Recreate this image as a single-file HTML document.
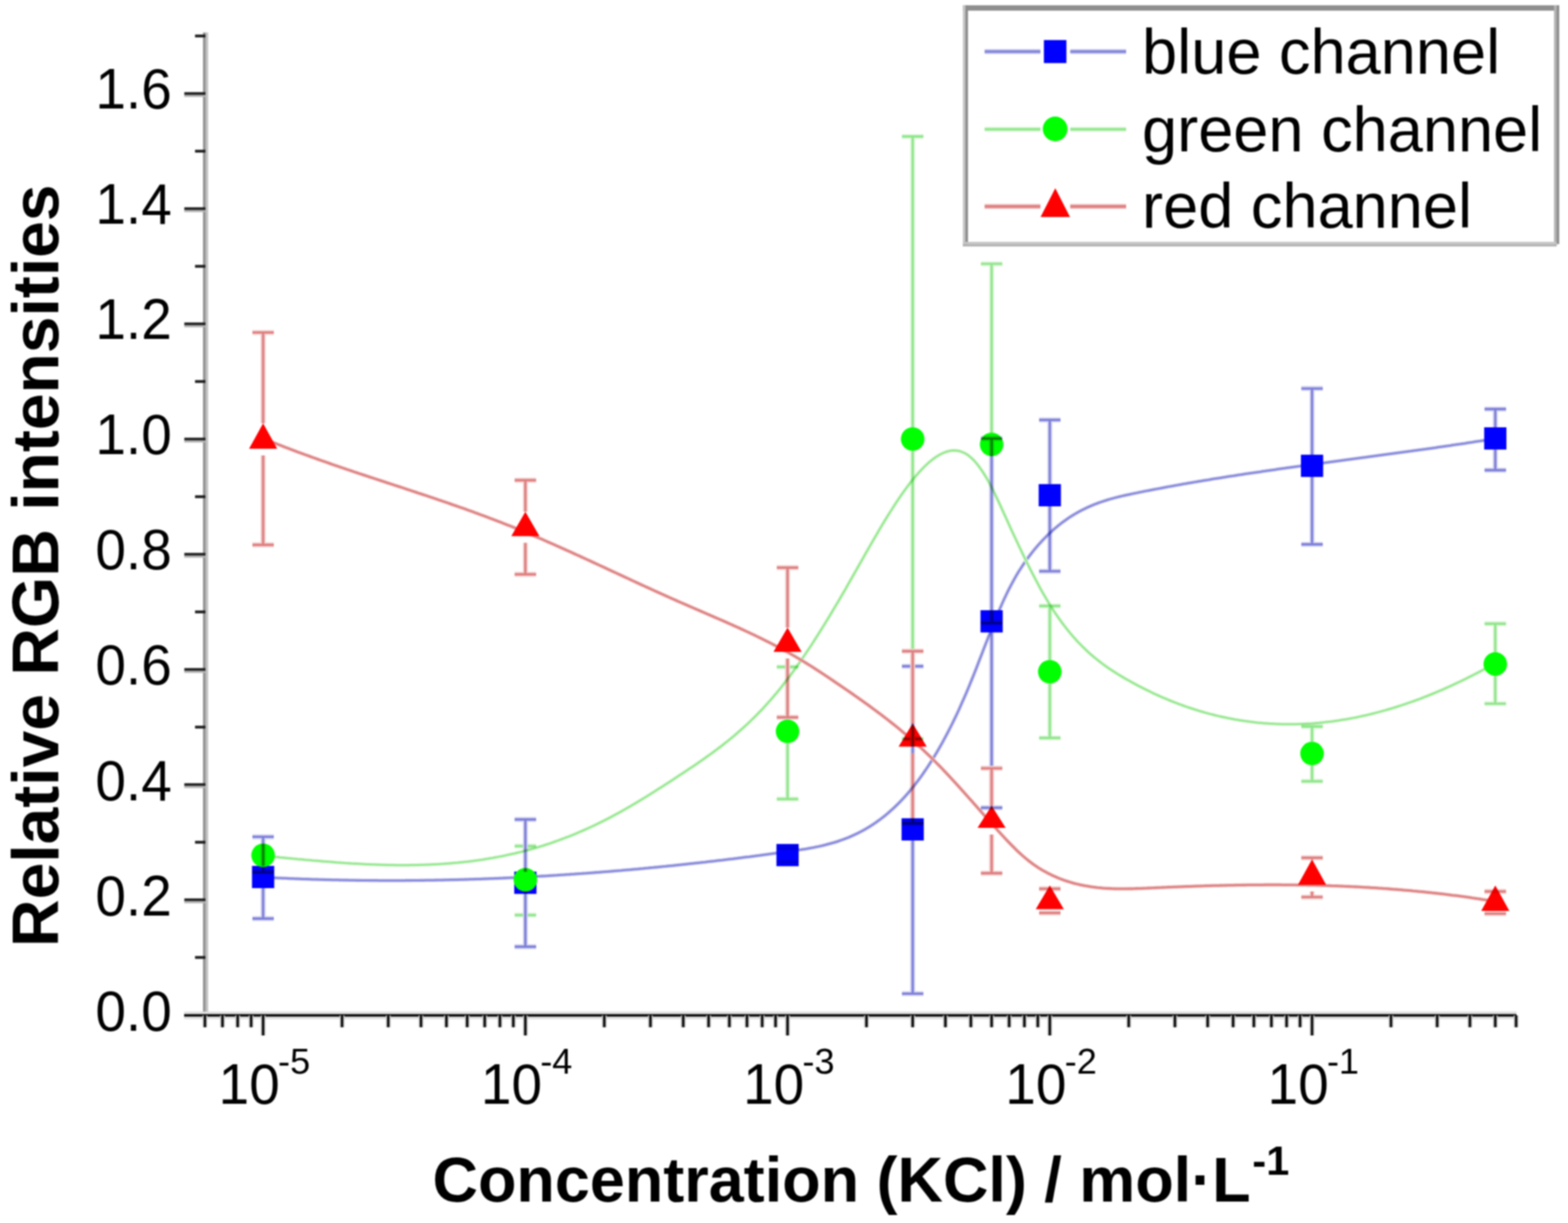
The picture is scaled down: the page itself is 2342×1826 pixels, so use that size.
<!DOCTYPE html>
<html><head><meta charset="utf-8"><style>html,body{margin:0;padding:0;background:#fff;overflow:hidden;}svg{display:block;filter:blur(0.8px);}</style></head>
<body>
<svg width="2342" height="1826" viewBox="0 0 2342 1826">
<rect width="100%" height="100%" fill="#fff"/>
<g fill="none" stroke-linecap="round" stroke-linejoin="round" style="mix-blend-mode:multiply">
<path d="M393.0,1309.8 L396.7,1310.0 L400.4,1310.1 L404.1,1310.3 L407.7,1310.5 L411.4,1310.7 L415.1,1310.9 L418.8,1311.0 L422.5,1311.2 L426.2,1311.3 L429.9,1311.5 L433.6,1311.7 L437.2,1311.8 L440.9,1312.0 L444.6,1312.1 L448.3,1312.2 L452.0,1312.4 L455.7,1312.5 L459.4,1312.6 L463.0,1312.7 L466.7,1312.9 L470.4,1313.0 L474.1,1313.1 L477.8,1313.2 L481.5,1313.3 L485.2,1313.4 L488.8,1313.5 L492.5,1313.6 L496.2,1313.7 L499.9,1313.8 L503.6,1313.8 L507.3,1313.9 L511.0,1314.0 L514.7,1314.1 L518.3,1314.1 L522.0,1314.2 L525.7,1314.3 L529.4,1314.3 L533.1,1314.4 L536.8,1314.4 L540.5,1314.5 L544.1,1314.5 L547.8,1314.5 L551.5,1314.6 L555.2,1314.6 L558.9,1314.6 L562.6,1314.6 L566.3,1314.7 L569.9,1314.7 L573.6,1314.7 L577.3,1314.7 L581.0,1314.7 L584.7,1314.7 L588.4,1314.7 L592.1,1314.7 L595.8,1314.7 L599.4,1314.7 L603.1,1314.7 L606.8,1314.6 L610.5,1314.6 L614.2,1314.6 L617.9,1314.5 L621.6,1314.5 L625.2,1314.5 L628.9,1314.4 L632.6,1314.4 L636.3,1314.3 L640.0,1314.3 L643.7,1314.2 L647.4,1314.2 L651.0,1314.1 L654.7,1314.0 L658.4,1314.0 L662.1,1313.9 L665.8,1313.8 L669.5,1313.7 L673.2,1313.6 L676.9,1313.6 L680.5,1313.5 L684.2,1313.4 L687.9,1313.3 L691.6,1313.2 L695.3,1313.1 L699.0,1313.0 L702.7,1312.8 L706.3,1312.7 L710.0,1312.6 L713.7,1312.5 L717.4,1312.4 L721.1,1312.2 L724.8,1312.1 L728.5,1312.0 L732.1,1311.8 L735.8,1311.7 L739.5,1311.5 L743.2,1311.4 L746.9,1311.2 L750.6,1311.1 L754.3,1310.9 L758.0,1310.7 L761.6,1310.6 L765.3,1310.4 L769.0,1310.2 L772.7,1310.1 L776.4,1309.9 L780.1,1309.7 L783.8,1309.5 L787.4,1309.3 L791.1,1309.1 L794.8,1308.9 L798.5,1308.7 L802.2,1308.5 L805.9,1308.3 L809.6,1308.1 L813.2,1307.9 L816.9,1307.7 L820.6,1307.4 L824.3,1307.2 L828.0,1307.0 L831.7,1306.8 L835.4,1306.5 L839.1,1306.3 L842.7,1306.1 L846.4,1305.8 L850.1,1305.6 L853.8,1305.3 L857.5,1305.1 L861.2,1304.8 L864.9,1304.5 L868.5,1304.3 L872.2,1304.0 L875.9,1303.8 L879.6,1303.5 L883.3,1303.2 L887.0,1302.9 L890.7,1302.6 L894.3,1302.4 L898.0,1302.1 L901.7,1301.8 L905.4,1301.5 L909.1,1301.2 L912.8,1300.9 L916.5,1300.6 L920.2,1300.3 L923.8,1300.0 L927.5,1299.7 L931.2,1299.3 L934.9,1299.0 L938.6,1298.7 L942.3,1298.4 L946.0,1298.0 L949.6,1297.7 L953.3,1297.4 L957.0,1297.0 L960.7,1296.7 L964.4,1296.3 L968.1,1296.0 L971.8,1295.6 L975.4,1295.3 L979.1,1294.9 L982.8,1294.6 L986.5,1294.2 L990.2,1293.8 L993.9,1293.5 L997.6,1293.1 L1001.3,1292.7 L1004.9,1292.4 L1008.6,1292.0 L1012.3,1291.6 L1016.0,1291.2 L1019.7,1290.8 L1023.4,1290.4 L1027.1,1290.0 L1030.7,1289.6 L1034.4,1289.2 L1038.1,1288.8 L1041.8,1288.4 L1045.5,1288.0 L1049.2,1287.6 L1052.9,1287.2 L1056.5,1286.7 L1060.2,1286.3 L1063.9,1285.9 L1067.6,1285.5 L1071.3,1285.0 L1075.0,1284.6 L1078.7,1284.2 L1082.4,1283.7 L1086.0,1283.3 L1089.7,1282.8 L1093.4,1282.4 L1097.1,1281.9 L1100.8,1281.5 L1104.5,1281.0 L1108.2,1280.6 L1111.8,1280.1 L1115.5,1279.6 L1119.2,1279.2 L1122.9,1278.7 L1126.6,1278.2 L1130.3,1277.7 L1134.0,1277.3 L1137.6,1276.8 L1141.3,1276.3 L1145.0,1275.8 L1148.7,1275.3 L1152.4,1274.8 L1156.1,1274.3 L1159.8,1273.8 L1163.5,1273.3 L1167.1,1272.8 L1170.8,1272.3 L1174.5,1271.8 L1178.2,1271.3 L1181.9,1270.7 L1185.6,1270.2 L1189.3,1269.7 L1192.9,1269.1 L1196.6,1268.6 L1200.3,1268.0 L1204.0,1267.4 L1207.7,1266.7 L1211.4,1266.1 L1215.1,1265.4 L1218.7,1264.6 L1222.4,1263.9 L1226.1,1263.1 L1229.8,1262.2 L1233.5,1261.3 L1237.2,1260.3 L1240.9,1259.3 L1244.6,1258.3 L1248.2,1257.2 L1251.9,1256.0 L1255.6,1254.7 L1259.3,1253.4 L1263.0,1252.0 L1266.7,1250.6 L1270.4,1249.0 L1274.0,1247.4 L1277.7,1245.7 L1281.4,1243.9 L1285.1,1242.0 L1288.8,1240.1 L1292.5,1238.0 L1296.2,1235.8 L1299.8,1233.6 L1303.5,1231.2 L1307.2,1228.7 L1310.9,1226.1 L1314.6,1223.4 L1318.3,1220.6 L1322.0,1217.7 L1325.7,1214.6 L1329.3,1211.4 L1333.0,1208.1 L1336.7,1204.7 L1340.4,1201.1 L1344.1,1197.4 L1347.8,1193.5 L1351.5,1189.5 L1355.1,1185.4 L1358.8,1181.1 L1362.5,1176.6 L1366.2,1172.0 L1369.9,1167.2 L1373.6,1162.3 L1377.3,1157.2 L1380.9,1151.9 L1384.6,1146.5 L1388.3,1140.9 L1392.0,1135.1 L1395.7,1129.1 L1399.4,1123.0 L1403.1,1116.6 L1406.8,1110.1 L1410.4,1103.4 L1414.1,1096.5 L1417.8,1089.4 L1421.5,1082.1 L1425.2,1074.5 L1428.9,1066.8 L1432.6,1058.9 L1436.2,1050.7 L1439.9,1042.4 L1443.6,1033.8 L1447.3,1025.0 L1451.0,1015.9 L1454.7,1006.7 L1458.4,997.4 L1462.0,987.9 L1465.7,978.4 L1469.4,968.8 L1473.1,959.3 L1476.8,949.8 L1480.5,940.5 L1484.2,931.2 L1487.9,922.2 L1491.5,913.3 L1495.2,904.8 L1498.9,896.5 L1502.6,888.6 L1506.3,881.0 L1510.0,873.9 L1513.7,867.0 L1517.3,860.5 L1521.0,854.3 L1524.7,848.5 L1528.4,842.9 L1532.1,837.5 L1535.8,832.4 L1539.5,827.5 L1543.1,822.9 L1546.8,818.4 L1550.5,814.1 L1554.2,810.0 L1557.9,806.0 L1561.6,802.2 L1565.3,798.5 L1569.0,795.0 L1572.6,791.6 L1576.3,788.4 L1580.0,785.3 L1583.7,782.4 L1587.4,779.5 L1591.1,776.9 L1594.8,774.3 L1598.4,771.8 L1602.1,769.5 L1605.8,767.3 L1609.5,765.1 L1613.2,763.1 L1616.9,761.2 L1620.6,759.4 L1624.2,757.6 L1627.9,756.0 L1631.6,754.4 L1635.3,752.9 L1639.0,751.5 L1642.7,750.2 L1646.4,748.9 L1650.1,747.7 L1653.7,746.5 L1657.4,745.4 L1661.1,744.4 L1664.8,743.4 L1668.5,742.4 L1672.2,741.5 L1675.9,740.6 L1679.5,739.8 L1683.2,739.0 L1686.9,738.2 L1690.6,737.4 L1694.3,736.6 L1698.0,735.9 L1701.7,735.1 L1705.3,734.4 L1709.0,733.6 L1712.7,732.9 L1716.4,732.2 L1720.1,731.5 L1723.8,730.8 L1727.5,730.1 L1731.2,729.4 L1734.8,728.7 L1738.5,728.0 L1742.2,727.3 L1745.9,726.6 L1749.6,725.9 L1753.3,725.3 L1757.0,724.6 L1760.6,723.9 L1764.3,723.3 L1768.0,722.6 L1771.7,722.0 L1775.4,721.3 L1779.1,720.7 L1782.8,720.1 L1786.4,719.4 L1790.1,718.8 L1793.8,718.2 L1797.5,717.6 L1801.2,717.0 L1804.9,716.4 L1808.6,715.7 L1812.3,715.1 L1815.9,714.6 L1819.6,714.0 L1823.3,713.4 L1827.0,712.8 L1830.7,712.2 L1834.4,711.6 L1838.1,711.0 L1841.7,710.5 L1845.4,709.9 L1849.1,709.3 L1852.8,708.8 L1856.5,708.2 L1860.2,707.6 L1863.9,707.1 L1867.5,706.5 L1871.2,706.0 L1874.9,705.4 L1878.6,704.9 L1882.3,704.4 L1886.0,703.8 L1889.7,703.3 L1893.4,702.7 L1897.0,702.2 L1900.7,701.7 L1904.4,701.2 L1908.1,700.6 L1911.8,700.1 L1915.5,699.6 L1919.2,699.1 L1922.8,698.5 L1926.5,698.0 L1930.2,697.5 L1933.9,697.0 L1937.6,696.5 L1941.3,696.0 L1945.0,695.5 L1948.6,695.0 L1952.3,694.5 L1956.0,694.0 L1959.7,693.5 L1963.4,693.0 L1967.1,692.5 L1970.8,692.0 L1974.5,691.5 L1978.1,691.0 L1981.8,690.5 L1985.5,690.0 L1989.2,689.5 L1992.9,689.0 L1996.6,688.5 L2000.3,688.0 L2003.9,687.5 L2007.6,687.0 L2011.3,686.5 L2015.0,686.0 L2018.7,685.5 L2022.4,685.0 L2026.1,684.5 L2029.7,684.0 L2033.4,683.5 L2037.1,683.0 L2040.8,682.6 L2044.5,682.1 L2048.2,681.6 L2051.9,681.1 L2055.6,680.6 L2059.2,680.1 L2062.9,679.6 L2066.6,679.1 L2070.3,678.6 L2074.0,678.1 L2077.7,677.6 L2081.4,677.1 L2085.0,676.6 L2088.7,676.1 L2092.4,675.6 L2096.1,675.1 L2099.8,674.6 L2103.5,674.1 L2107.2,673.6 L2110.8,673.0 L2114.5,672.5 L2118.2,672.0 L2121.9,671.5 L2125.6,671.0 L2129.3,670.5 L2133.0,669.9 L2136.7,669.4 L2140.3,668.9 L2144.0,668.4 L2147.7,667.8 L2151.4,667.3 L2155.1,666.8 L2158.8,666.2 L2162.5,665.7 L2166.1,665.2 L2169.8,664.6 L2173.5,664.1 L2177.2,663.5 L2180.9,663.0 L2184.6,662.4 L2188.3,661.9 L2191.9,661.3 L2195.6,660.7 L2199.3,660.2 L2203.0,659.6 L2206.7,659.0 L2210.4,658.5 L2214.1,657.9 L2217.8,657.3 L2221.4,656.7 L2225.1,656.1 L2228.8,655.5 L2232.5,654.9" stroke="#cccdf0" stroke-width="5.6"/>
<path d="M393.0,1309.8 L396.7,1310.0 L400.4,1310.1 L404.1,1310.3 L407.7,1310.5 L411.4,1310.7 L415.1,1310.9 L418.8,1311.0 L422.5,1311.2 L426.2,1311.3 L429.9,1311.5 L433.6,1311.7 L437.2,1311.8 L440.9,1312.0 L444.6,1312.1 L448.3,1312.2 L452.0,1312.4 L455.7,1312.5 L459.4,1312.6 L463.0,1312.7 L466.7,1312.9 L470.4,1313.0 L474.1,1313.1 L477.8,1313.2 L481.5,1313.3 L485.2,1313.4 L488.8,1313.5 L492.5,1313.6 L496.2,1313.7 L499.9,1313.8 L503.6,1313.8 L507.3,1313.9 L511.0,1314.0 L514.7,1314.1 L518.3,1314.1 L522.0,1314.2 L525.7,1314.3 L529.4,1314.3 L533.1,1314.4 L536.8,1314.4 L540.5,1314.5 L544.1,1314.5 L547.8,1314.5 L551.5,1314.6 L555.2,1314.6 L558.9,1314.6 L562.6,1314.6 L566.3,1314.7 L569.9,1314.7 L573.6,1314.7 L577.3,1314.7 L581.0,1314.7 L584.7,1314.7 L588.4,1314.7 L592.1,1314.7 L595.8,1314.7 L599.4,1314.7 L603.1,1314.7 L606.8,1314.6 L610.5,1314.6 L614.2,1314.6 L617.9,1314.5 L621.6,1314.5 L625.2,1314.5 L628.9,1314.4 L632.6,1314.4 L636.3,1314.3 L640.0,1314.3 L643.7,1314.2 L647.4,1314.2 L651.0,1314.1 L654.7,1314.0 L658.4,1314.0 L662.1,1313.9 L665.8,1313.8 L669.5,1313.7 L673.2,1313.6 L676.9,1313.6 L680.5,1313.5 L684.2,1313.4 L687.9,1313.3 L691.6,1313.2 L695.3,1313.1 L699.0,1313.0 L702.7,1312.8 L706.3,1312.7 L710.0,1312.6 L713.7,1312.5 L717.4,1312.4 L721.1,1312.2 L724.8,1312.1 L728.5,1312.0 L732.1,1311.8 L735.8,1311.7 L739.5,1311.5 L743.2,1311.4 L746.9,1311.2 L750.6,1311.1 L754.3,1310.9 L758.0,1310.7 L761.6,1310.6 L765.3,1310.4 L769.0,1310.2 L772.7,1310.1 L776.4,1309.9 L780.1,1309.7 L783.8,1309.5 L787.4,1309.3 L791.1,1309.1 L794.8,1308.9 L798.5,1308.7 L802.2,1308.5 L805.9,1308.3 L809.6,1308.1 L813.2,1307.9 L816.9,1307.7 L820.6,1307.4 L824.3,1307.2 L828.0,1307.0 L831.7,1306.8 L835.4,1306.5 L839.1,1306.3 L842.7,1306.1 L846.4,1305.8 L850.1,1305.6 L853.8,1305.3 L857.5,1305.1 L861.2,1304.8 L864.9,1304.5 L868.5,1304.3 L872.2,1304.0 L875.9,1303.8 L879.6,1303.5 L883.3,1303.2 L887.0,1302.9 L890.7,1302.6 L894.3,1302.4 L898.0,1302.1 L901.7,1301.8 L905.4,1301.5 L909.1,1301.2 L912.8,1300.9 L916.5,1300.6 L920.2,1300.3 L923.8,1300.0 L927.5,1299.7 L931.2,1299.3 L934.9,1299.0 L938.6,1298.7 L942.3,1298.4 L946.0,1298.0 L949.6,1297.7 L953.3,1297.4 L957.0,1297.0 L960.7,1296.7 L964.4,1296.3 L968.1,1296.0 L971.8,1295.6 L975.4,1295.3 L979.1,1294.9 L982.8,1294.6 L986.5,1294.2 L990.2,1293.8 L993.9,1293.5 L997.6,1293.1 L1001.3,1292.7 L1004.9,1292.4 L1008.6,1292.0 L1012.3,1291.6 L1016.0,1291.2 L1019.7,1290.8 L1023.4,1290.4 L1027.1,1290.0 L1030.7,1289.6 L1034.4,1289.2 L1038.1,1288.8 L1041.8,1288.4 L1045.5,1288.0 L1049.2,1287.6 L1052.9,1287.2 L1056.5,1286.7 L1060.2,1286.3 L1063.9,1285.9 L1067.6,1285.5 L1071.3,1285.0 L1075.0,1284.6 L1078.7,1284.2 L1082.4,1283.7 L1086.0,1283.3 L1089.7,1282.8 L1093.4,1282.4 L1097.1,1281.9 L1100.8,1281.5 L1104.5,1281.0 L1108.2,1280.6 L1111.8,1280.1 L1115.5,1279.6 L1119.2,1279.2 L1122.9,1278.7 L1126.6,1278.2 L1130.3,1277.7 L1134.0,1277.3 L1137.6,1276.8 L1141.3,1276.3 L1145.0,1275.8 L1148.7,1275.3 L1152.4,1274.8 L1156.1,1274.3 L1159.8,1273.8 L1163.5,1273.3 L1167.1,1272.8 L1170.8,1272.3 L1174.5,1271.8 L1178.2,1271.3 L1181.9,1270.7 L1185.6,1270.2 L1189.3,1269.7 L1192.9,1269.1 L1196.6,1268.6 L1200.3,1268.0 L1204.0,1267.4 L1207.7,1266.7 L1211.4,1266.1 L1215.1,1265.4 L1218.7,1264.6 L1222.4,1263.9 L1226.1,1263.1 L1229.8,1262.2 L1233.5,1261.3 L1237.2,1260.3 L1240.9,1259.3 L1244.6,1258.3 L1248.2,1257.2 L1251.9,1256.0 L1255.6,1254.7 L1259.3,1253.4 L1263.0,1252.0 L1266.7,1250.6 L1270.4,1249.0 L1274.0,1247.4 L1277.7,1245.7 L1281.4,1243.9 L1285.1,1242.0 L1288.8,1240.1 L1292.5,1238.0 L1296.2,1235.8 L1299.8,1233.6 L1303.5,1231.2 L1307.2,1228.7 L1310.9,1226.1 L1314.6,1223.4 L1318.3,1220.6 L1322.0,1217.7 L1325.7,1214.6 L1329.3,1211.4 L1333.0,1208.1 L1336.7,1204.7 L1340.4,1201.1 L1344.1,1197.4 L1347.8,1193.5 L1351.5,1189.5 L1355.1,1185.4 L1358.8,1181.1 L1362.5,1176.6 L1366.2,1172.0 L1369.9,1167.2 L1373.6,1162.3 L1377.3,1157.2 L1380.9,1151.9 L1384.6,1146.5 L1388.3,1140.9 L1392.0,1135.1 L1395.7,1129.1 L1399.4,1123.0 L1403.1,1116.6 L1406.8,1110.1 L1410.4,1103.4 L1414.1,1096.5 L1417.8,1089.4 L1421.5,1082.1 L1425.2,1074.5 L1428.9,1066.8 L1432.6,1058.9 L1436.2,1050.7 L1439.9,1042.4 L1443.6,1033.8 L1447.3,1025.0 L1451.0,1015.9 L1454.7,1006.7 L1458.4,997.4 L1462.0,987.9 L1465.7,978.4 L1469.4,968.8 L1473.1,959.3 L1476.8,949.8 L1480.5,940.5 L1484.2,931.2 L1487.9,922.2 L1491.5,913.3 L1495.2,904.8 L1498.9,896.5 L1502.6,888.6 L1506.3,881.0 L1510.0,873.9 L1513.7,867.0 L1517.3,860.5 L1521.0,854.3 L1524.7,848.5 L1528.4,842.9 L1532.1,837.5 L1535.8,832.4 L1539.5,827.5 L1543.1,822.9 L1546.8,818.4 L1550.5,814.1 L1554.2,810.0 L1557.9,806.0 L1561.6,802.2 L1565.3,798.5 L1569.0,795.0 L1572.6,791.6 L1576.3,788.4 L1580.0,785.3 L1583.7,782.4 L1587.4,779.5 L1591.1,776.9 L1594.8,774.3 L1598.4,771.8 L1602.1,769.5 L1605.8,767.3 L1609.5,765.1 L1613.2,763.1 L1616.9,761.2 L1620.6,759.4 L1624.2,757.6 L1627.9,756.0 L1631.6,754.4 L1635.3,752.9 L1639.0,751.5 L1642.7,750.2 L1646.4,748.9 L1650.1,747.7 L1653.7,746.5 L1657.4,745.4 L1661.1,744.4 L1664.8,743.4 L1668.5,742.4 L1672.2,741.5 L1675.9,740.6 L1679.5,739.8 L1683.2,739.0 L1686.9,738.2 L1690.6,737.4 L1694.3,736.6 L1698.0,735.9 L1701.7,735.1 L1705.3,734.4 L1709.0,733.6 L1712.7,732.9 L1716.4,732.2 L1720.1,731.5 L1723.8,730.8 L1727.5,730.1 L1731.2,729.4 L1734.8,728.7 L1738.5,728.0 L1742.2,727.3 L1745.9,726.6 L1749.6,725.9 L1753.3,725.3 L1757.0,724.6 L1760.6,723.9 L1764.3,723.3 L1768.0,722.6 L1771.7,722.0 L1775.4,721.3 L1779.1,720.7 L1782.8,720.1 L1786.4,719.4 L1790.1,718.8 L1793.8,718.2 L1797.5,717.6 L1801.2,717.0 L1804.9,716.4 L1808.6,715.7 L1812.3,715.1 L1815.9,714.6 L1819.6,714.0 L1823.3,713.4 L1827.0,712.8 L1830.7,712.2 L1834.4,711.6 L1838.1,711.0 L1841.7,710.5 L1845.4,709.9 L1849.1,709.3 L1852.8,708.8 L1856.5,708.2 L1860.2,707.6 L1863.9,707.1 L1867.5,706.5 L1871.2,706.0 L1874.9,705.4 L1878.6,704.9 L1882.3,704.4 L1886.0,703.8 L1889.7,703.3 L1893.4,702.7 L1897.0,702.2 L1900.7,701.7 L1904.4,701.2 L1908.1,700.6 L1911.8,700.1 L1915.5,699.6 L1919.2,699.1 L1922.8,698.5 L1926.5,698.0 L1930.2,697.5 L1933.9,697.0 L1937.6,696.5 L1941.3,696.0 L1945.0,695.5 L1948.6,695.0 L1952.3,694.5 L1956.0,694.0 L1959.7,693.5 L1963.4,693.0 L1967.1,692.5 L1970.8,692.0 L1974.5,691.5 L1978.1,691.0 L1981.8,690.5 L1985.5,690.0 L1989.2,689.5 L1992.9,689.0 L1996.6,688.5 L2000.3,688.0 L2003.9,687.5 L2007.6,687.0 L2011.3,686.5 L2015.0,686.0 L2018.7,685.5 L2022.4,685.0 L2026.1,684.5 L2029.7,684.0 L2033.4,683.5 L2037.1,683.0 L2040.8,682.6 L2044.5,682.1 L2048.2,681.6 L2051.9,681.1 L2055.6,680.6 L2059.2,680.1 L2062.9,679.6 L2066.6,679.1 L2070.3,678.6 L2074.0,678.1 L2077.7,677.6 L2081.4,677.1 L2085.0,676.6 L2088.7,676.1 L2092.4,675.6 L2096.1,675.1 L2099.8,674.6 L2103.5,674.1 L2107.2,673.6 L2110.8,673.0 L2114.5,672.5 L2118.2,672.0 L2121.9,671.5 L2125.6,671.0 L2129.3,670.5 L2133.0,669.9 L2136.7,669.4 L2140.3,668.9 L2144.0,668.4 L2147.7,667.8 L2151.4,667.3 L2155.1,666.8 L2158.8,666.2 L2162.5,665.7 L2166.1,665.2 L2169.8,664.6 L2173.5,664.1 L2177.2,663.5 L2180.9,663.0 L2184.6,662.4 L2188.3,661.9 L2191.9,661.3 L2195.6,660.7 L2199.3,660.2 L2203.0,659.6 L2206.7,659.0 L2210.4,658.5 L2214.1,657.9 L2217.8,657.3 L2221.4,656.7 L2225.1,656.1 L2228.8,655.5 L2232.5,654.9" stroke="#8688da" stroke-width="3.0"/>
<path d="M393.0,1277.7 L396.7,1278.0 L400.4,1278.4 L404.1,1278.8 L407.7,1279.1 L411.4,1279.5 L415.1,1279.8 L418.8,1280.2 L422.5,1280.5 L426.2,1280.9 L429.8,1281.3 L433.5,1281.6 L437.2,1282.0 L440.9,1282.3 L444.6,1282.7 L448.3,1283.0 L452.0,1283.3 L455.6,1283.7 L459.3,1284.0 L463.0,1284.3 L466.7,1284.7 L470.4,1285.0 L474.1,1285.3 L477.7,1285.6 L481.4,1285.9 L485.1,1286.2 L488.8,1286.5 L492.5,1286.8 L496.2,1287.1 L499.9,1287.4 L503.5,1287.7 L507.2,1287.9 L510.9,1288.2 L514.6,1288.5 L518.3,1288.7 L522.0,1288.9 L525.6,1289.2 L529.3,1289.4 L533.0,1289.6 L536.7,1289.8 L540.4,1290.0 L544.1,1290.2 L547.8,1290.4 L551.4,1290.5 L555.1,1290.7 L558.8,1290.8 L562.5,1291.0 L566.2,1291.1 L569.9,1291.2 L573.5,1291.3 L577.2,1291.4 L580.9,1291.5 L584.6,1291.6 L588.3,1291.6 L592.0,1291.7 L595.7,1291.7 L599.3,1291.7 L603.0,1291.7 L606.7,1291.7 L610.4,1291.7 L614.1,1291.6 L617.8,1291.6 L621.4,1291.5 L625.1,1291.4 L628.8,1291.3 L632.5,1291.2 L636.2,1291.1 L639.9,1291.0 L643.6,1290.8 L647.2,1290.6 L650.9,1290.4 L654.6,1290.2 L658.3,1290.0 L662.0,1289.8 L665.7,1289.5 L669.3,1289.2 L673.0,1288.9 L676.7,1288.6 L680.4,1288.3 L684.1,1288.0 L687.8,1287.6 L691.5,1287.2 L695.1,1286.8 L698.8,1286.4 L702.5,1285.9 L706.2,1285.5 L709.9,1285.0 L713.6,1284.5 L717.2,1283.9 L720.9,1283.4 L724.6,1282.8 L728.3,1282.2 L732.0,1281.6 L735.7,1281.0 L739.3,1280.3 L743.0,1279.6 L746.7,1278.9 L750.4,1278.2 L754.1,1277.4 L757.8,1276.6 L761.5,1275.8 L765.1,1275.0 L768.8,1274.2 L772.5,1273.3 L776.2,1272.4 L779.9,1271.5 L783.6,1270.5 L787.2,1269.5 L790.9,1268.5 L794.6,1267.5 L798.3,1266.5 L802.0,1265.4 L805.7,1264.3 L809.4,1263.1 L813.0,1262.0 L816.7,1260.8 L820.4,1259.6 L824.1,1258.3 L827.8,1257.0 L831.5,1255.7 L835.1,1254.4 L838.8,1253.0 L842.5,1251.7 L846.2,1250.2 L849.9,1248.8 L853.6,1247.3 L857.3,1245.8 L860.9,1244.3 L864.6,1242.7 L868.3,1241.1 L872.0,1239.5 L875.7,1237.9 L879.4,1236.2 L883.0,1234.5 L886.7,1232.8 L890.4,1231.0 L894.1,1229.2 L897.8,1227.4 L901.5,1225.6 L905.2,1223.7 L908.8,1221.8 L912.5,1219.9 L916.2,1217.9 L919.9,1215.9 L923.6,1213.9 L927.3,1211.9 L930.9,1209.8 L934.6,1207.7 L938.3,1205.6 L942.0,1203.5 L945.7,1201.3 L949.4,1199.1 L953.1,1196.9 L956.7,1194.7 L960.4,1192.4 L964.1,1190.2 L967.8,1187.9 L971.5,1185.6 L975.2,1183.3 L978.8,1181.0 L982.5,1178.6 L986.2,1176.3 L989.9,1173.9 L993.6,1171.5 L997.3,1169.2 L1001.0,1166.8 L1004.6,1164.4 L1008.3,1161.9 L1012.0,1159.5 L1015.7,1157.1 L1019.4,1154.7 L1023.1,1152.2 L1026.7,1149.8 L1030.4,1147.3 L1034.1,1144.9 L1037.8,1142.4 L1041.5,1139.9 L1045.2,1137.3 L1048.9,1134.8 L1052.5,1132.2 L1056.2,1129.6 L1059.9,1126.9 L1063.6,1124.3 L1067.3,1121.5 L1071.0,1118.8 L1074.6,1116.0 L1078.3,1113.2 L1082.0,1110.3 L1085.7,1107.4 L1089.4,1104.4 L1093.1,1101.4 L1096.8,1098.3 L1100.4,1095.1 L1104.1,1091.9 L1107.8,1088.7 L1111.5,1085.4 L1115.2,1082.0 L1118.9,1078.5 L1122.5,1075.0 L1126.2,1071.4 L1129.9,1067.7 L1133.6,1063.9 L1137.3,1060.1 L1141.0,1056.2 L1144.7,1052.1 L1148.3,1048.1 L1152.0,1043.9 L1155.7,1039.6 L1159.4,1035.2 L1163.1,1030.8 L1166.8,1026.2 L1170.4,1021.5 L1174.1,1016.8 L1177.8,1011.9 L1181.5,1007.0 L1185.2,1001.9 L1188.9,996.8 L1192.6,991.6 L1196.2,986.3 L1199.9,981.0 L1203.6,975.5 L1207.3,970.0 L1211.0,964.5 L1214.7,958.8 L1218.3,953.1 L1222.0,947.3 L1225.7,941.4 L1229.4,935.5 L1233.1,929.5 L1236.8,923.5 L1240.5,917.4 L1244.1,911.3 L1247.8,905.1 L1251.5,898.9 L1255.2,892.6 L1258.9,886.2 L1262.6,879.9 L1266.2,873.5 L1269.9,867.0 L1273.6,860.5 L1277.3,854.0 L1281.0,847.5 L1284.7,841.0 L1288.4,834.5 L1292.0,828.0 L1295.7,821.5 L1299.4,815.1 L1303.1,808.7 L1306.8,802.3 L1310.5,796.0 L1314.1,789.7 L1317.8,783.5 L1321.5,777.4 L1325.2,771.4 L1328.9,765.5 L1332.6,759.7 L1336.2,754.0 L1339.9,748.4 L1343.6,742.9 L1347.3,737.6 L1351.0,732.4 L1354.7,727.3 L1358.4,722.5 L1362.0,717.8 L1365.7,713.2 L1369.4,708.9 L1373.1,704.7 L1376.8,700.8 L1380.5,697.0 L1384.1,693.5 L1387.8,690.2 L1391.5,687.2 L1395.2,684.3 L1398.9,681.8 L1402.6,679.5 L1406.3,677.5 L1409.9,675.8 L1413.6,674.5 L1417.3,673.5 L1421.0,672.8 L1424.7,672.6 L1428.4,672.7 L1432.0,673.3 L1435.7,674.4 L1439.4,675.8 L1443.1,677.8 L1446.8,680.3 L1450.5,683.3 L1454.2,686.8 L1457.8,690.9 L1461.5,695.5 L1465.2,700.6 L1468.9,706.1 L1472.6,712.1 L1476.3,718.5 L1479.9,725.4 L1483.6,732.6 L1487.3,740.2 L1491.0,748.0 L1494.7,756.0 L1498.4,764.1 L1502.1,772.2 L1505.7,780.2 L1509.4,788.3 L1513.1,796.3 L1516.8,804.2 L1520.5,812.1 L1524.2,819.8 L1527.8,827.5 L1531.5,835.1 L1535.2,842.6 L1538.9,850.0 L1542.6,857.2 L1546.3,864.3 L1550.0,871.3 L1553.6,878.1 L1557.3,884.7 L1561.0,891.1 L1564.7,897.3 L1568.4,903.4 L1572.1,909.2 L1575.7,914.8 L1579.4,920.2 L1583.1,925.4 L1586.8,930.5 L1590.5,935.3 L1594.2,940.0 L1597.9,944.6 L1601.5,948.9 L1605.2,953.1 L1608.9,957.2 L1612.6,961.0 L1616.3,964.8 L1620.0,968.4 L1623.6,971.9 L1627.3,975.3 L1631.0,978.5 L1634.7,981.6 L1638.4,984.6 L1642.1,987.5 L1645.8,990.4 L1649.4,993.1 L1653.1,995.7 L1656.8,998.3 L1660.5,1000.7 L1664.2,1003.1 L1667.9,1005.5 L1671.5,1007.7 L1675.2,1009.9 L1678.9,1012.1 L1682.6,1014.2 L1686.3,1016.3 L1690.0,1018.4 L1693.7,1020.4 L1697.3,1022.4 L1701.0,1024.3 L1704.7,1026.2 L1708.4,1028.1 L1712.1,1029.9 L1715.8,1031.7 L1719.4,1033.5 L1723.1,1035.3 L1726.8,1037.0 L1730.5,1038.6 L1734.2,1040.3 L1737.9,1041.9 L1741.6,1043.4 L1745.2,1045.0 L1748.9,1046.5 L1752.6,1048.0 L1756.3,1049.4 L1760.0,1050.8 L1763.7,1052.2 L1767.3,1053.5 L1771.0,1054.8 L1774.7,1056.1 L1778.4,1057.3 L1782.1,1058.5 L1785.8,1059.7 L1789.5,1060.9 L1793.1,1062.0 L1796.8,1063.0 L1800.5,1064.1 L1804.2,1065.1 L1807.9,1066.1 L1811.6,1067.0 L1815.2,1068.0 L1818.9,1068.9 L1822.6,1069.7 L1826.3,1070.5 L1830.0,1071.3 L1833.7,1072.1 L1837.4,1072.8 L1841.0,1073.5 L1844.7,1074.2 L1848.4,1074.8 L1852.1,1075.4 L1855.8,1076.0 L1859.5,1076.6 L1863.1,1077.1 L1866.8,1077.6 L1870.5,1078.0 L1874.2,1078.5 L1877.9,1078.9 L1881.6,1079.2 L1885.3,1079.6 L1888.9,1079.9 L1892.6,1080.1 L1896.3,1080.4 L1900.0,1080.6 L1903.7,1080.8 L1907.4,1081.0 L1911.0,1081.1 L1914.7,1081.2 L1918.4,1081.3 L1922.1,1081.3 L1925.8,1081.3 L1929.5,1081.3 L1933.1,1081.3 L1936.8,1081.2 L1940.5,1081.1 L1944.2,1081.0 L1947.9,1080.8 L1951.6,1080.6 L1955.3,1080.4 L1958.9,1080.2 L1962.6,1079.9 L1966.3,1079.6 L1970.0,1079.3 L1973.7,1078.9 L1977.4,1078.6 L1981.0,1078.1 L1984.7,1077.7 L1988.4,1077.3 L1992.1,1076.8 L1995.8,1076.2 L1999.5,1075.7 L2003.2,1075.1 L2006.8,1074.5 L2010.5,1073.9 L2014.2,1073.3 L2017.9,1072.6 L2021.6,1071.9 L2025.3,1071.2 L2028.9,1070.4 L2032.6,1069.6 L2036.3,1068.8 L2040.0,1068.0 L2043.7,1067.1 L2047.4,1066.2 L2051.1,1065.3 L2054.7,1064.4 L2058.4,1063.4 L2062.1,1062.4 L2065.8,1061.4 L2069.5,1060.4 L2073.2,1059.3 L2076.8,1058.2 L2080.5,1057.1 L2084.2,1056.0 L2087.9,1054.8 L2091.6,1053.6 L2095.3,1052.4 L2099.0,1051.2 L2102.6,1049.9 L2106.3,1048.6 L2110.0,1047.3 L2113.7,1046.0 L2117.4,1044.6 L2121.1,1043.3 L2124.7,1041.8 L2128.4,1040.4 L2132.1,1039.0 L2135.8,1037.5 L2139.5,1036.0 L2143.2,1034.5 L2146.9,1032.9 L2150.5,1031.3 L2154.2,1029.8 L2157.9,1028.1 L2161.6,1026.5 L2165.3,1024.8 L2169.0,1023.2 L2172.6,1021.4 L2176.3,1019.7 L2180.0,1018.0 L2183.7,1016.2 L2187.4,1014.4 L2191.1,1012.6 L2194.8,1010.7 L2198.4,1008.9 L2202.1,1007.0 L2205.8,1005.1 L2209.5,1003.2 L2213.2,1001.2 L2216.9,999.2 L2220.5,997.2 L2224.2,995.2 L2227.9,993.2 L2231.6,991.1" stroke="#e2f8de" stroke-width="5.6"/>
<path d="M393.0,1277.7 L396.7,1278.0 L400.4,1278.4 L404.1,1278.8 L407.7,1279.1 L411.4,1279.5 L415.1,1279.8 L418.8,1280.2 L422.5,1280.5 L426.2,1280.9 L429.8,1281.3 L433.5,1281.6 L437.2,1282.0 L440.9,1282.3 L444.6,1282.7 L448.3,1283.0 L452.0,1283.3 L455.6,1283.7 L459.3,1284.0 L463.0,1284.3 L466.7,1284.7 L470.4,1285.0 L474.1,1285.3 L477.7,1285.6 L481.4,1285.9 L485.1,1286.2 L488.8,1286.5 L492.5,1286.8 L496.2,1287.1 L499.9,1287.4 L503.5,1287.7 L507.2,1287.9 L510.9,1288.2 L514.6,1288.5 L518.3,1288.7 L522.0,1288.9 L525.6,1289.2 L529.3,1289.4 L533.0,1289.6 L536.7,1289.8 L540.4,1290.0 L544.1,1290.2 L547.8,1290.4 L551.4,1290.5 L555.1,1290.7 L558.8,1290.8 L562.5,1291.0 L566.2,1291.1 L569.9,1291.2 L573.5,1291.3 L577.2,1291.4 L580.9,1291.5 L584.6,1291.6 L588.3,1291.6 L592.0,1291.7 L595.7,1291.7 L599.3,1291.7 L603.0,1291.7 L606.7,1291.7 L610.4,1291.7 L614.1,1291.6 L617.8,1291.6 L621.4,1291.5 L625.1,1291.4 L628.8,1291.3 L632.5,1291.2 L636.2,1291.1 L639.9,1291.0 L643.6,1290.8 L647.2,1290.6 L650.9,1290.4 L654.6,1290.2 L658.3,1290.0 L662.0,1289.8 L665.7,1289.5 L669.3,1289.2 L673.0,1288.9 L676.7,1288.6 L680.4,1288.3 L684.1,1288.0 L687.8,1287.6 L691.5,1287.2 L695.1,1286.8 L698.8,1286.4 L702.5,1285.9 L706.2,1285.5 L709.9,1285.0 L713.6,1284.5 L717.2,1283.9 L720.9,1283.4 L724.6,1282.8 L728.3,1282.2 L732.0,1281.6 L735.7,1281.0 L739.3,1280.3 L743.0,1279.6 L746.7,1278.9 L750.4,1278.2 L754.1,1277.4 L757.8,1276.6 L761.5,1275.8 L765.1,1275.0 L768.8,1274.2 L772.5,1273.3 L776.2,1272.4 L779.9,1271.5 L783.6,1270.5 L787.2,1269.5 L790.9,1268.5 L794.6,1267.5 L798.3,1266.5 L802.0,1265.4 L805.7,1264.3 L809.4,1263.1 L813.0,1262.0 L816.7,1260.8 L820.4,1259.6 L824.1,1258.3 L827.8,1257.0 L831.5,1255.7 L835.1,1254.4 L838.8,1253.0 L842.5,1251.7 L846.2,1250.2 L849.9,1248.8 L853.6,1247.3 L857.3,1245.8 L860.9,1244.3 L864.6,1242.7 L868.3,1241.1 L872.0,1239.5 L875.7,1237.9 L879.4,1236.2 L883.0,1234.5 L886.7,1232.8 L890.4,1231.0 L894.1,1229.2 L897.8,1227.4 L901.5,1225.6 L905.2,1223.7 L908.8,1221.8 L912.5,1219.9 L916.2,1217.9 L919.9,1215.9 L923.6,1213.9 L927.3,1211.9 L930.9,1209.8 L934.6,1207.7 L938.3,1205.6 L942.0,1203.5 L945.7,1201.3 L949.4,1199.1 L953.1,1196.9 L956.7,1194.7 L960.4,1192.4 L964.1,1190.2 L967.8,1187.9 L971.5,1185.6 L975.2,1183.3 L978.8,1181.0 L982.5,1178.6 L986.2,1176.3 L989.9,1173.9 L993.6,1171.5 L997.3,1169.2 L1001.0,1166.8 L1004.6,1164.4 L1008.3,1161.9 L1012.0,1159.5 L1015.7,1157.1 L1019.4,1154.7 L1023.1,1152.2 L1026.7,1149.8 L1030.4,1147.3 L1034.1,1144.9 L1037.8,1142.4 L1041.5,1139.9 L1045.2,1137.3 L1048.9,1134.8 L1052.5,1132.2 L1056.2,1129.6 L1059.9,1126.9 L1063.6,1124.3 L1067.3,1121.5 L1071.0,1118.8 L1074.6,1116.0 L1078.3,1113.2 L1082.0,1110.3 L1085.7,1107.4 L1089.4,1104.4 L1093.1,1101.4 L1096.8,1098.3 L1100.4,1095.1 L1104.1,1091.9 L1107.8,1088.7 L1111.5,1085.4 L1115.2,1082.0 L1118.9,1078.5 L1122.5,1075.0 L1126.2,1071.4 L1129.9,1067.7 L1133.6,1063.9 L1137.3,1060.1 L1141.0,1056.2 L1144.7,1052.1 L1148.3,1048.1 L1152.0,1043.9 L1155.7,1039.6 L1159.4,1035.2 L1163.1,1030.8 L1166.8,1026.2 L1170.4,1021.5 L1174.1,1016.8 L1177.8,1011.9 L1181.5,1007.0 L1185.2,1001.9 L1188.9,996.8 L1192.6,991.6 L1196.2,986.3 L1199.9,981.0 L1203.6,975.5 L1207.3,970.0 L1211.0,964.5 L1214.7,958.8 L1218.3,953.1 L1222.0,947.3 L1225.7,941.4 L1229.4,935.5 L1233.1,929.5 L1236.8,923.5 L1240.5,917.4 L1244.1,911.3 L1247.8,905.1 L1251.5,898.9 L1255.2,892.6 L1258.9,886.2 L1262.6,879.9 L1266.2,873.5 L1269.9,867.0 L1273.6,860.5 L1277.3,854.0 L1281.0,847.5 L1284.7,841.0 L1288.4,834.5 L1292.0,828.0 L1295.7,821.5 L1299.4,815.1 L1303.1,808.7 L1306.8,802.3 L1310.5,796.0 L1314.1,789.7 L1317.8,783.5 L1321.5,777.4 L1325.2,771.4 L1328.9,765.5 L1332.6,759.7 L1336.2,754.0 L1339.9,748.4 L1343.6,742.9 L1347.3,737.6 L1351.0,732.4 L1354.7,727.3 L1358.4,722.5 L1362.0,717.8 L1365.7,713.2 L1369.4,708.9 L1373.1,704.7 L1376.8,700.8 L1380.5,697.0 L1384.1,693.5 L1387.8,690.2 L1391.5,687.2 L1395.2,684.3 L1398.9,681.8 L1402.6,679.5 L1406.3,677.5 L1409.9,675.8 L1413.6,674.5 L1417.3,673.5 L1421.0,672.8 L1424.7,672.6 L1428.4,672.7 L1432.0,673.3 L1435.7,674.4 L1439.4,675.8 L1443.1,677.8 L1446.8,680.3 L1450.5,683.3 L1454.2,686.8 L1457.8,690.9 L1461.5,695.5 L1465.2,700.6 L1468.9,706.1 L1472.6,712.1 L1476.3,718.5 L1479.9,725.4 L1483.6,732.6 L1487.3,740.2 L1491.0,748.0 L1494.7,756.0 L1498.4,764.1 L1502.1,772.2 L1505.7,780.2 L1509.4,788.3 L1513.1,796.3 L1516.8,804.2 L1520.5,812.1 L1524.2,819.8 L1527.8,827.5 L1531.5,835.1 L1535.2,842.6 L1538.9,850.0 L1542.6,857.2 L1546.3,864.3 L1550.0,871.3 L1553.6,878.1 L1557.3,884.7 L1561.0,891.1 L1564.7,897.3 L1568.4,903.4 L1572.1,909.2 L1575.7,914.8 L1579.4,920.2 L1583.1,925.4 L1586.8,930.5 L1590.5,935.3 L1594.2,940.0 L1597.9,944.6 L1601.5,948.9 L1605.2,953.1 L1608.9,957.2 L1612.6,961.0 L1616.3,964.8 L1620.0,968.4 L1623.6,971.9 L1627.3,975.3 L1631.0,978.5 L1634.7,981.6 L1638.4,984.6 L1642.1,987.5 L1645.8,990.4 L1649.4,993.1 L1653.1,995.7 L1656.8,998.3 L1660.5,1000.7 L1664.2,1003.1 L1667.9,1005.5 L1671.5,1007.7 L1675.2,1009.9 L1678.9,1012.1 L1682.6,1014.2 L1686.3,1016.3 L1690.0,1018.4 L1693.7,1020.4 L1697.3,1022.4 L1701.0,1024.3 L1704.7,1026.2 L1708.4,1028.1 L1712.1,1029.9 L1715.8,1031.7 L1719.4,1033.5 L1723.1,1035.3 L1726.8,1037.0 L1730.5,1038.6 L1734.2,1040.3 L1737.9,1041.9 L1741.6,1043.4 L1745.2,1045.0 L1748.9,1046.5 L1752.6,1048.0 L1756.3,1049.4 L1760.0,1050.8 L1763.7,1052.2 L1767.3,1053.5 L1771.0,1054.8 L1774.7,1056.1 L1778.4,1057.3 L1782.1,1058.5 L1785.8,1059.7 L1789.5,1060.9 L1793.1,1062.0 L1796.8,1063.0 L1800.5,1064.1 L1804.2,1065.1 L1807.9,1066.1 L1811.6,1067.0 L1815.2,1068.0 L1818.9,1068.9 L1822.6,1069.7 L1826.3,1070.5 L1830.0,1071.3 L1833.7,1072.1 L1837.4,1072.8 L1841.0,1073.5 L1844.7,1074.2 L1848.4,1074.8 L1852.1,1075.4 L1855.8,1076.0 L1859.5,1076.6 L1863.1,1077.1 L1866.8,1077.6 L1870.5,1078.0 L1874.2,1078.5 L1877.9,1078.9 L1881.6,1079.2 L1885.3,1079.6 L1888.9,1079.9 L1892.6,1080.1 L1896.3,1080.4 L1900.0,1080.6 L1903.7,1080.8 L1907.4,1081.0 L1911.0,1081.1 L1914.7,1081.2 L1918.4,1081.3 L1922.1,1081.3 L1925.8,1081.3 L1929.5,1081.3 L1933.1,1081.3 L1936.8,1081.2 L1940.5,1081.1 L1944.2,1081.0 L1947.9,1080.8 L1951.6,1080.6 L1955.3,1080.4 L1958.9,1080.2 L1962.6,1079.9 L1966.3,1079.6 L1970.0,1079.3 L1973.7,1078.9 L1977.4,1078.6 L1981.0,1078.1 L1984.7,1077.7 L1988.4,1077.3 L1992.1,1076.8 L1995.8,1076.2 L1999.5,1075.7 L2003.2,1075.1 L2006.8,1074.5 L2010.5,1073.9 L2014.2,1073.3 L2017.9,1072.6 L2021.6,1071.9 L2025.3,1071.2 L2028.9,1070.4 L2032.6,1069.6 L2036.3,1068.8 L2040.0,1068.0 L2043.7,1067.1 L2047.4,1066.2 L2051.1,1065.3 L2054.7,1064.4 L2058.4,1063.4 L2062.1,1062.4 L2065.8,1061.4 L2069.5,1060.4 L2073.2,1059.3 L2076.8,1058.2 L2080.5,1057.1 L2084.2,1056.0 L2087.9,1054.8 L2091.6,1053.6 L2095.3,1052.4 L2099.0,1051.2 L2102.6,1049.9 L2106.3,1048.6 L2110.0,1047.3 L2113.7,1046.0 L2117.4,1044.6 L2121.1,1043.3 L2124.7,1041.8 L2128.4,1040.4 L2132.1,1039.0 L2135.8,1037.5 L2139.5,1036.0 L2143.2,1034.5 L2146.9,1032.9 L2150.5,1031.3 L2154.2,1029.8 L2157.9,1028.1 L2161.6,1026.5 L2165.3,1024.8 L2169.0,1023.2 L2172.6,1021.4 L2176.3,1019.7 L2180.0,1018.0 L2183.7,1016.2 L2187.4,1014.4 L2191.1,1012.6 L2194.8,1010.7 L2198.4,1008.9 L2202.1,1007.0 L2205.8,1005.1 L2209.5,1003.2 L2213.2,1001.2 L2216.9,999.2 L2220.5,997.2 L2224.2,995.2 L2227.9,993.2 L2231.6,991.1" stroke="#94e88e" stroke-width="3.0"/>
<path d="M393.0,654.5 L396.7,656.1 L400.4,657.6 L404.1,659.0 L407.7,660.5 L411.4,662.0 L415.1,663.5 L418.8,664.9 L422.5,666.3 L426.2,667.8 L429.9,669.2 L433.6,670.6 L437.2,672.0 L440.9,673.4 L444.6,674.8 L448.3,676.1 L452.0,677.5 L455.7,678.9 L459.4,680.2 L463.0,681.5 L466.7,682.9 L470.4,684.2 L474.1,685.5 L477.8,686.8 L481.5,688.1 L485.2,689.4 L488.8,690.7 L492.5,692.0 L496.2,693.3 L499.9,694.6 L503.6,695.8 L507.3,697.1 L511.0,698.4 L514.7,699.6 L518.3,700.9 L522.0,702.1 L525.7,703.3 L529.4,704.6 L533.1,705.8 L536.8,707.1 L540.5,708.3 L544.1,709.5 L547.8,710.7 L551.5,712.0 L555.2,713.2 L558.9,714.4 L562.6,715.6 L566.3,716.8 L569.9,718.0 L573.6,719.2 L577.3,720.5 L581.0,721.7 L584.7,722.9 L588.4,724.1 L592.1,725.3 L595.8,726.5 L599.4,727.7 L603.1,728.9 L606.8,730.2 L610.5,731.4 L614.2,732.6 L617.9,733.8 L621.6,735.0 L625.2,736.3 L628.9,737.5 L632.6,738.7 L636.3,739.9 L640.0,741.2 L643.7,742.4 L647.4,743.7 L651.0,744.9 L654.7,746.2 L658.4,747.4 L662.1,748.7 L665.8,749.9 L669.5,751.2 L673.2,752.5 L676.9,753.8 L680.5,755.0 L684.2,756.3 L687.9,757.6 L691.6,758.9 L695.3,760.2 L699.0,761.6 L702.7,762.9 L706.3,764.2 L710.0,765.6 L713.7,766.9 L717.4,768.3 L721.1,769.6 L724.8,771.0 L728.5,772.4 L732.1,773.8 L735.8,775.2 L739.5,776.6 L743.2,778.0 L746.9,779.4 L750.6,780.9 L754.3,782.3 L758.0,783.8 L761.6,785.2 L765.3,786.7 L769.0,788.2 L772.7,789.7 L776.4,791.2 L780.1,792.7 L783.8,794.3 L787.4,795.8 L791.1,797.4 L794.8,798.9 L798.5,800.5 L802.2,802.1 L805.9,803.7 L809.6,805.2 L813.2,806.8 L816.9,808.5 L820.6,810.1 L824.3,811.7 L828.0,813.3 L831.7,815.0 L835.4,816.6 L839.1,818.3 L842.7,819.9 L846.4,821.6 L850.1,823.2 L853.8,824.9 L857.5,826.6 L861.2,828.3 L864.9,829.9 L868.5,831.6 L872.2,833.3 L875.9,835.0 L879.6,836.7 L883.3,838.4 L887.0,840.1 L890.7,841.8 L894.3,843.5 L898.0,845.2 L901.7,846.9 L905.4,848.6 L909.1,850.4 L912.8,852.1 L916.5,853.8 L920.2,855.5 L923.8,857.2 L927.5,858.9 L931.2,860.6 L934.9,862.3 L938.6,864.0 L942.3,865.8 L946.0,867.5 L949.6,869.2 L953.3,870.9 L957.0,872.6 L960.7,874.3 L964.4,876.0 L968.1,877.6 L971.8,879.3 L975.4,881.0 L979.1,882.7 L982.8,884.4 L986.5,886.0 L990.2,887.7 L993.9,889.4 L997.6,891.0 L1001.3,892.7 L1004.9,894.3 L1008.6,895.9 L1012.3,897.6 L1016.0,899.2 L1019.7,900.8 L1023.4,902.4 L1027.1,904.0 L1030.7,905.6 L1034.4,907.2 L1038.1,908.8 L1041.8,910.4 L1045.5,912.0 L1049.2,913.6 L1052.9,915.2 L1056.5,916.8 L1060.2,918.4 L1063.9,920.0 L1067.6,921.6 L1071.3,923.2 L1075.0,924.8 L1078.7,926.4 L1082.4,928.0 L1086.0,929.6 L1089.7,931.3 L1093.4,932.9 L1097.1,934.6 L1100.8,936.2 L1104.5,937.9 L1108.2,939.6 L1111.8,941.3 L1115.5,943.0 L1119.2,944.7 L1122.9,946.5 L1126.6,948.2 L1130.3,950.0 L1134.0,951.8 L1137.6,953.6 L1141.3,955.4 L1145.0,957.3 L1148.7,959.1 L1152.4,961.0 L1156.1,962.9 L1159.8,964.8 L1163.5,966.8 L1167.1,968.8 L1170.8,970.8 L1174.5,972.8 L1178.2,974.8 L1181.9,976.9 L1185.6,979.0 L1189.3,981.2 L1192.9,983.3 L1196.6,985.5 L1200.3,987.7 L1204.0,990.0 L1207.7,992.3 L1211.4,994.6 L1215.1,996.9 L1218.7,999.3 L1222.4,1001.7 L1226.1,1004.1 L1229.8,1006.5 L1233.5,1009.0 L1237.2,1011.4 L1240.9,1013.9 L1244.6,1016.4 L1248.2,1018.9 L1251.9,1021.4 L1255.6,1023.9 L1259.3,1026.5 L1263.0,1029.0 L1266.7,1031.5 L1270.4,1034.1 L1274.0,1036.6 L1277.7,1039.2 L1281.4,1041.8 L1285.1,1044.4 L1288.8,1047.0 L1292.5,1049.7 L1296.2,1052.3 L1299.8,1055.0 L1303.5,1057.7 L1307.2,1060.4 L1310.9,1063.2 L1314.6,1065.9 L1318.3,1068.7 L1322.0,1071.6 L1325.7,1074.4 L1329.3,1077.3 L1333.0,1080.2 L1336.7,1083.2 L1340.4,1086.2 L1344.1,1089.2 L1347.8,1092.3 L1351.5,1095.3 L1355.1,1098.5 L1358.8,1101.7 L1362.5,1104.9 L1366.2,1108.1 L1369.9,1111.5 L1373.6,1114.8 L1377.3,1118.2 L1380.9,1121.7 L1384.6,1125.2 L1388.3,1128.7 L1392.0,1132.3 L1395.7,1136.0 L1399.4,1139.7 L1403.1,1143.4 L1406.8,1147.2 L1410.4,1151.1 L1414.1,1155.0 L1417.8,1158.9 L1421.5,1162.9 L1425.2,1166.9 L1428.9,1170.9 L1432.6,1175.0 L1436.2,1179.1 L1439.9,1183.2 L1443.6,1187.3 L1447.3,1191.5 L1451.0,1195.6 L1454.7,1199.8 L1458.4,1203.9 L1462.0,1208.1 L1465.7,1212.3 L1469.4,1216.4 L1473.1,1220.6 L1476.8,1224.7 L1480.5,1228.9 L1484.2,1233.0 L1487.9,1237.1 L1491.5,1241.2 L1495.2,1245.2 L1498.9,1249.2 L1502.6,1253.2 L1506.3,1257.1 L1510.0,1260.9 L1513.7,1264.6 L1517.3,1268.3 L1521.0,1271.8 L1524.7,1275.2 L1528.4,1278.5 L1532.1,1281.7 L1535.8,1284.7 L1539.5,1287.5 L1543.1,1290.2 L1546.8,1292.8 L1550.5,1295.3 L1554.2,1297.6 L1557.9,1299.8 L1561.6,1301.8 L1565.3,1303.8 L1569.0,1305.6 L1572.6,1307.4 L1576.3,1309.0 L1580.0,1310.6 L1583.7,1312.1 L1587.4,1313.5 L1591.1,1314.8 L1594.8,1316.0 L1598.4,1317.1 L1602.1,1318.2 L1605.8,1319.2 L1609.5,1320.1 L1613.2,1321.0 L1616.9,1321.7 L1620.6,1322.5 L1624.2,1323.1 L1627.9,1323.7 L1631.6,1324.3 L1635.3,1324.7 L1639.0,1325.2 L1642.7,1325.5 L1646.4,1325.9 L1650.1,1326.2 L1653.7,1326.4 L1657.4,1326.6 L1661.1,1326.8 L1664.8,1326.9 L1668.5,1327.0 L1672.2,1327.0 L1675.9,1327.0 L1679.5,1327.0 L1683.2,1327.0 L1686.9,1326.9 L1690.6,1326.9 L1694.3,1326.8 L1698.0,1326.6 L1701.7,1326.5 L1705.3,1326.4 L1709.0,1326.2 L1712.7,1326.1 L1716.4,1325.9 L1720.1,1325.7 L1723.8,1325.6 L1727.5,1325.4 L1731.2,1325.2 L1734.8,1325.1 L1738.5,1324.9 L1742.2,1324.8 L1745.9,1324.6 L1749.6,1324.5 L1753.3,1324.3 L1757.0,1324.2 L1760.6,1324.0 L1764.3,1323.9 L1768.0,1323.7 L1771.7,1323.6 L1775.4,1323.5 L1779.1,1323.4 L1782.8,1323.2 L1786.4,1323.1 L1790.1,1323.0 L1793.8,1322.9 L1797.5,1322.8 L1801.2,1322.6 L1804.9,1322.5 L1808.6,1322.4 L1812.3,1322.3 L1815.9,1322.2 L1819.6,1322.2 L1823.3,1322.1 L1827.0,1322.0 L1830.7,1321.9 L1834.4,1321.8 L1838.1,1321.7 L1841.7,1321.7 L1845.4,1321.6 L1849.1,1321.5 L1852.8,1321.5 L1856.5,1321.4 L1860.2,1321.4 L1863.9,1321.3 L1867.5,1321.3 L1871.2,1321.3 L1874.9,1321.2 L1878.6,1321.2 L1882.3,1321.2 L1886.0,1321.2 L1889.7,1321.1 L1893.4,1321.1 L1897.0,1321.1 L1900.7,1321.1 L1904.4,1321.1 L1908.1,1321.1 L1911.8,1321.1 L1915.5,1321.2 L1919.2,1321.2 L1922.8,1321.2 L1926.5,1321.2 L1930.2,1321.3 L1933.9,1321.3 L1937.6,1321.4 L1941.3,1321.4 L1945.0,1321.5 L1948.6,1321.5 L1952.3,1321.6 L1956.0,1321.7 L1959.7,1321.7 L1963.4,1321.8 L1967.1,1321.9 L1970.8,1322.0 L1974.5,1322.1 L1978.1,1322.2 L1981.8,1322.3 L1985.5,1322.4 L1989.2,1322.6 L1992.9,1322.7 L1996.6,1322.8 L2000.3,1323.0 L2003.9,1323.1 L2007.6,1323.3 L2011.3,1323.4 L2015.0,1323.6 L2018.7,1323.8 L2022.4,1323.9 L2026.1,1324.1 L2029.7,1324.3 L2033.4,1324.5 L2037.1,1324.7 L2040.8,1324.9 L2044.5,1325.1 L2048.2,1325.4 L2051.9,1325.6 L2055.6,1325.8 L2059.2,1326.1 L2062.9,1326.3 L2066.6,1326.6 L2070.3,1326.8 L2074.0,1327.1 L2077.7,1327.4 L2081.4,1327.7 L2085.0,1327.9 L2088.7,1328.2 L2092.4,1328.5 L2096.1,1328.9 L2099.8,1329.2 L2103.5,1329.5 L2107.2,1329.8 L2110.8,1330.2 L2114.5,1330.5 L2118.2,1330.9 L2121.9,1331.2 L2125.6,1331.6 L2129.3,1332.0 L2133.0,1332.4 L2136.7,1332.8 L2140.3,1333.2 L2144.0,1333.6 L2147.7,1334.0 L2151.4,1334.4 L2155.1,1334.8 L2158.8,1335.3 L2162.5,1335.7 L2166.1,1336.2 L2169.8,1336.7 L2173.5,1337.1 L2177.2,1337.6 L2180.9,1338.1 L2184.6,1338.6 L2188.3,1339.1 L2191.9,1339.6 L2195.6,1340.1 L2199.3,1340.7 L2203.0,1341.2 L2206.7,1341.8 L2210.4,1342.3 L2214.1,1342.9 L2217.8,1343.5 L2221.4,1344.1 L2225.1,1344.6 L2228.8,1345.2 L2232.5,1345.9" stroke="#f2c0c0" stroke-width="5.6"/>
<path d="M393.0,654.5 L396.7,656.1 L400.4,657.6 L404.1,659.0 L407.7,660.5 L411.4,662.0 L415.1,663.5 L418.8,664.9 L422.5,666.3 L426.2,667.8 L429.9,669.2 L433.6,670.6 L437.2,672.0 L440.9,673.4 L444.6,674.8 L448.3,676.1 L452.0,677.5 L455.7,678.9 L459.4,680.2 L463.0,681.5 L466.7,682.9 L470.4,684.2 L474.1,685.5 L477.8,686.8 L481.5,688.1 L485.2,689.4 L488.8,690.7 L492.5,692.0 L496.2,693.3 L499.9,694.6 L503.6,695.8 L507.3,697.1 L511.0,698.4 L514.7,699.6 L518.3,700.9 L522.0,702.1 L525.7,703.3 L529.4,704.6 L533.1,705.8 L536.8,707.1 L540.5,708.3 L544.1,709.5 L547.8,710.7 L551.5,712.0 L555.2,713.2 L558.9,714.4 L562.6,715.6 L566.3,716.8 L569.9,718.0 L573.6,719.2 L577.3,720.5 L581.0,721.7 L584.7,722.9 L588.4,724.1 L592.1,725.3 L595.8,726.5 L599.4,727.7 L603.1,728.9 L606.8,730.2 L610.5,731.4 L614.2,732.6 L617.9,733.8 L621.6,735.0 L625.2,736.3 L628.9,737.5 L632.6,738.7 L636.3,739.9 L640.0,741.2 L643.7,742.4 L647.4,743.7 L651.0,744.9 L654.7,746.2 L658.4,747.4 L662.1,748.7 L665.8,749.9 L669.5,751.2 L673.2,752.5 L676.9,753.8 L680.5,755.0 L684.2,756.3 L687.9,757.6 L691.6,758.9 L695.3,760.2 L699.0,761.6 L702.7,762.9 L706.3,764.2 L710.0,765.6 L713.7,766.9 L717.4,768.3 L721.1,769.6 L724.8,771.0 L728.5,772.4 L732.1,773.8 L735.8,775.2 L739.5,776.6 L743.2,778.0 L746.9,779.4 L750.6,780.9 L754.3,782.3 L758.0,783.8 L761.6,785.2 L765.3,786.7 L769.0,788.2 L772.7,789.7 L776.4,791.2 L780.1,792.7 L783.8,794.3 L787.4,795.8 L791.1,797.4 L794.8,798.9 L798.5,800.5 L802.2,802.1 L805.9,803.7 L809.6,805.2 L813.2,806.8 L816.9,808.5 L820.6,810.1 L824.3,811.7 L828.0,813.3 L831.7,815.0 L835.4,816.6 L839.1,818.3 L842.7,819.9 L846.4,821.6 L850.1,823.2 L853.8,824.9 L857.5,826.6 L861.2,828.3 L864.9,829.9 L868.5,831.6 L872.2,833.3 L875.9,835.0 L879.6,836.7 L883.3,838.4 L887.0,840.1 L890.7,841.8 L894.3,843.5 L898.0,845.2 L901.7,846.9 L905.4,848.6 L909.1,850.4 L912.8,852.1 L916.5,853.8 L920.2,855.5 L923.8,857.2 L927.5,858.9 L931.2,860.6 L934.9,862.3 L938.6,864.0 L942.3,865.8 L946.0,867.5 L949.6,869.2 L953.3,870.9 L957.0,872.6 L960.7,874.3 L964.4,876.0 L968.1,877.6 L971.8,879.3 L975.4,881.0 L979.1,882.7 L982.8,884.4 L986.5,886.0 L990.2,887.7 L993.9,889.4 L997.6,891.0 L1001.3,892.7 L1004.9,894.3 L1008.6,895.9 L1012.3,897.6 L1016.0,899.2 L1019.7,900.8 L1023.4,902.4 L1027.1,904.0 L1030.7,905.6 L1034.4,907.2 L1038.1,908.8 L1041.8,910.4 L1045.5,912.0 L1049.2,913.6 L1052.9,915.2 L1056.5,916.8 L1060.2,918.4 L1063.9,920.0 L1067.6,921.6 L1071.3,923.2 L1075.0,924.8 L1078.7,926.4 L1082.4,928.0 L1086.0,929.6 L1089.7,931.3 L1093.4,932.9 L1097.1,934.6 L1100.8,936.2 L1104.5,937.9 L1108.2,939.6 L1111.8,941.3 L1115.5,943.0 L1119.2,944.7 L1122.9,946.5 L1126.6,948.2 L1130.3,950.0 L1134.0,951.8 L1137.6,953.6 L1141.3,955.4 L1145.0,957.3 L1148.7,959.1 L1152.4,961.0 L1156.1,962.9 L1159.8,964.8 L1163.5,966.8 L1167.1,968.8 L1170.8,970.8 L1174.5,972.8 L1178.2,974.8 L1181.9,976.9 L1185.6,979.0 L1189.3,981.2 L1192.9,983.3 L1196.6,985.5 L1200.3,987.7 L1204.0,990.0 L1207.7,992.3 L1211.4,994.6 L1215.1,996.9 L1218.7,999.3 L1222.4,1001.7 L1226.1,1004.1 L1229.8,1006.5 L1233.5,1009.0 L1237.2,1011.4 L1240.9,1013.9 L1244.6,1016.4 L1248.2,1018.9 L1251.9,1021.4 L1255.6,1023.9 L1259.3,1026.5 L1263.0,1029.0 L1266.7,1031.5 L1270.4,1034.1 L1274.0,1036.6 L1277.7,1039.2 L1281.4,1041.8 L1285.1,1044.4 L1288.8,1047.0 L1292.5,1049.7 L1296.2,1052.3 L1299.8,1055.0 L1303.5,1057.7 L1307.2,1060.4 L1310.9,1063.2 L1314.6,1065.9 L1318.3,1068.7 L1322.0,1071.6 L1325.7,1074.4 L1329.3,1077.3 L1333.0,1080.2 L1336.7,1083.2 L1340.4,1086.2 L1344.1,1089.2 L1347.8,1092.3 L1351.5,1095.3 L1355.1,1098.5 L1358.8,1101.7 L1362.5,1104.9 L1366.2,1108.1 L1369.9,1111.5 L1373.6,1114.8 L1377.3,1118.2 L1380.9,1121.7 L1384.6,1125.2 L1388.3,1128.7 L1392.0,1132.3 L1395.7,1136.0 L1399.4,1139.7 L1403.1,1143.4 L1406.8,1147.2 L1410.4,1151.1 L1414.1,1155.0 L1417.8,1158.9 L1421.5,1162.9 L1425.2,1166.9 L1428.9,1170.9 L1432.6,1175.0 L1436.2,1179.1 L1439.9,1183.2 L1443.6,1187.3 L1447.3,1191.5 L1451.0,1195.6 L1454.7,1199.8 L1458.4,1203.9 L1462.0,1208.1 L1465.7,1212.3 L1469.4,1216.4 L1473.1,1220.6 L1476.8,1224.7 L1480.5,1228.9 L1484.2,1233.0 L1487.9,1237.1 L1491.5,1241.2 L1495.2,1245.2 L1498.9,1249.2 L1502.6,1253.2 L1506.3,1257.1 L1510.0,1260.9 L1513.7,1264.6 L1517.3,1268.3 L1521.0,1271.8 L1524.7,1275.2 L1528.4,1278.5 L1532.1,1281.7 L1535.8,1284.7 L1539.5,1287.5 L1543.1,1290.2 L1546.8,1292.8 L1550.5,1295.3 L1554.2,1297.6 L1557.9,1299.8 L1561.6,1301.8 L1565.3,1303.8 L1569.0,1305.6 L1572.6,1307.4 L1576.3,1309.0 L1580.0,1310.6 L1583.7,1312.1 L1587.4,1313.5 L1591.1,1314.8 L1594.8,1316.0 L1598.4,1317.1 L1602.1,1318.2 L1605.8,1319.2 L1609.5,1320.1 L1613.2,1321.0 L1616.9,1321.7 L1620.6,1322.5 L1624.2,1323.1 L1627.9,1323.7 L1631.6,1324.3 L1635.3,1324.7 L1639.0,1325.2 L1642.7,1325.5 L1646.4,1325.9 L1650.1,1326.2 L1653.7,1326.4 L1657.4,1326.6 L1661.1,1326.8 L1664.8,1326.9 L1668.5,1327.0 L1672.2,1327.0 L1675.9,1327.0 L1679.5,1327.0 L1683.2,1327.0 L1686.9,1326.9 L1690.6,1326.9 L1694.3,1326.8 L1698.0,1326.6 L1701.7,1326.5 L1705.3,1326.4 L1709.0,1326.2 L1712.7,1326.1 L1716.4,1325.9 L1720.1,1325.7 L1723.8,1325.6 L1727.5,1325.4 L1731.2,1325.2 L1734.8,1325.1 L1738.5,1324.9 L1742.2,1324.8 L1745.9,1324.6 L1749.6,1324.5 L1753.3,1324.3 L1757.0,1324.2 L1760.6,1324.0 L1764.3,1323.9 L1768.0,1323.7 L1771.7,1323.6 L1775.4,1323.5 L1779.1,1323.4 L1782.8,1323.2 L1786.4,1323.1 L1790.1,1323.0 L1793.8,1322.9 L1797.5,1322.8 L1801.2,1322.6 L1804.9,1322.5 L1808.6,1322.4 L1812.3,1322.3 L1815.9,1322.2 L1819.6,1322.2 L1823.3,1322.1 L1827.0,1322.0 L1830.7,1321.9 L1834.4,1321.8 L1838.1,1321.7 L1841.7,1321.7 L1845.4,1321.6 L1849.1,1321.5 L1852.8,1321.5 L1856.5,1321.4 L1860.2,1321.4 L1863.9,1321.3 L1867.5,1321.3 L1871.2,1321.3 L1874.9,1321.2 L1878.6,1321.2 L1882.3,1321.2 L1886.0,1321.2 L1889.7,1321.1 L1893.4,1321.1 L1897.0,1321.1 L1900.7,1321.1 L1904.4,1321.1 L1908.1,1321.1 L1911.8,1321.1 L1915.5,1321.2 L1919.2,1321.2 L1922.8,1321.2 L1926.5,1321.2 L1930.2,1321.3 L1933.9,1321.3 L1937.6,1321.4 L1941.3,1321.4 L1945.0,1321.5 L1948.6,1321.5 L1952.3,1321.6 L1956.0,1321.7 L1959.7,1321.7 L1963.4,1321.8 L1967.1,1321.9 L1970.8,1322.0 L1974.5,1322.1 L1978.1,1322.2 L1981.8,1322.3 L1985.5,1322.4 L1989.2,1322.6 L1992.9,1322.7 L1996.6,1322.8 L2000.3,1323.0 L2003.9,1323.1 L2007.6,1323.3 L2011.3,1323.4 L2015.0,1323.6 L2018.7,1323.8 L2022.4,1323.9 L2026.1,1324.1 L2029.7,1324.3 L2033.4,1324.5 L2037.1,1324.7 L2040.8,1324.9 L2044.5,1325.1 L2048.2,1325.4 L2051.9,1325.6 L2055.6,1325.8 L2059.2,1326.1 L2062.9,1326.3 L2066.6,1326.6 L2070.3,1326.8 L2074.0,1327.1 L2077.7,1327.4 L2081.4,1327.7 L2085.0,1327.9 L2088.7,1328.2 L2092.4,1328.5 L2096.1,1328.9 L2099.8,1329.2 L2103.5,1329.5 L2107.2,1329.8 L2110.8,1330.2 L2114.5,1330.5 L2118.2,1330.9 L2121.9,1331.2 L2125.6,1331.6 L2129.3,1332.0 L2133.0,1332.4 L2136.7,1332.8 L2140.3,1333.2 L2144.0,1333.6 L2147.7,1334.0 L2151.4,1334.4 L2155.1,1334.8 L2158.8,1335.3 L2162.5,1335.7 L2166.1,1336.2 L2169.8,1336.7 L2173.5,1337.1 L2177.2,1337.6 L2180.9,1338.1 L2184.6,1338.6 L2188.3,1339.1 L2191.9,1339.6 L2195.6,1340.1 L2199.3,1340.7 L2203.0,1341.2 L2206.7,1341.8 L2210.4,1342.3 L2214.1,1342.9 L2217.8,1343.5 L2221.4,1344.1 L2225.1,1344.6 L2228.8,1345.2 L2232.5,1345.9" stroke="#dc8080" stroke-width="3.0"/>
</g>
<g>
<rect x="376.4" y="1292.8" width="33.2" height="33.2" fill="#0000ff"/>
<rect x="768.1" y="1301.4" width="33.2" height="33.2" fill="#0000ff"/>
<rect x="1159.7" y="1260.1" width="33.2" height="33.2" fill="#0000ff"/>
<rect x="1346.6" y="1221.7" width="33.2" height="33.2" fill="#0000ff"/>
<rect x="1464.5" y="911.1" width="33.2" height="33.2" fill="#0000ff"/>
<rect x="1551.4" y="722.8" width="33.2" height="33.2" fill="#0000ff"/>
<rect x="1943.1" y="678.9" width="33.2" height="33.2" fill="#0000ff"/>
<rect x="2216.8" y="638.0" width="33.2" height="33.2" fill="#0000ff"/>
<circle cx="393.0" cy="1277.0" r="17.6" fill="#00ff00"/>
<circle cx="784.7" cy="1313.5" r="17.6" fill="#00ff00"/>
<circle cx="1176.3" cy="1092.0" r="17.6" fill="#00ff00"/>
<circle cx="1363.2" cy="655.5" r="17.6" fill="#00ff00"/>
<circle cx="1481.1" cy="663.5" r="17.6" fill="#00ff00"/>
<circle cx="1568.0" cy="1003.0" r="17.6" fill="#00ff00"/>
<circle cx="1959.7" cy="1125.1" r="17.6" fill="#00ff00"/>
<circle cx="2233.4" cy="991.4" r="17.6" fill="#00ff00"/>
<path d="M393.0,632.0 L414.0,670.0 L372.0,670.0Z" fill="#ff0000"/>
<path d="M784.7,764.0 L805.7,800.4 L763.7,800.4Z" fill="#ff0000"/>
<path d="M1176.3,937.0 L1197.3,973.3 L1155.3,973.3Z" fill="#ff0000"/>
<path d="M1363.2,1080.0 L1384.2,1114.7 L1342.2,1114.7Z" fill="#ff0000"/>
<path d="M1481.1,1203.0 L1502.1,1236.0 L1460.1,1236.0Z" fill="#ff0000"/>
<path d="M1568.0,1322.0 L1589.0,1357.5 L1547.0,1357.5Z" fill="#ff0000"/>
<path d="M1959.7,1283.0 L1980.7,1321.0 L1938.7,1321.0Z" fill="#ff0000"/>
<path d="M2233.4,1322.0 L2254.4,1360.0 L2212.4,1360.0Z" fill="#ff0000"/>
</g>
<g fill="none" style="mix-blend-mode:multiply">
<path d="M377.0,1249.4H409.0M377.0,1302.0H409.0M393.0,1249.4V1259.4M393.0,1294.6V1302.0" stroke="#e0f6dc" stroke-width="7.5"/><path d="M377.0,1249.4H409.0M377.0,1302.0H409.0M393.0,1249.4V1259.4M393.0,1294.6V1302.0" stroke="#8ee68a" stroke-width="3.4"/>
<path d="M768.7,1263.2H800.7M768.7,1366.2H800.7M784.7,1263.2V1295.9M784.7,1331.1V1366.2" stroke="#e0f6dc" stroke-width="7.5"/><path d="M768.7,1263.2H800.7M768.7,1366.2H800.7M784.7,1263.2V1295.9M784.7,1331.1V1366.2" stroke="#8ee68a" stroke-width="3.4"/>
<path d="M1160.3,995.8H1192.3M1160.3,1193.0H1192.3M1176.3,995.8V1074.4M1176.3,1109.6V1193.0" stroke="#e0f6dc" stroke-width="7.5"/><path d="M1160.3,995.8H1192.3M1160.3,1193.0H1192.3M1176.3,995.8V1074.4M1176.3,1109.6V1193.0" stroke="#8ee68a" stroke-width="3.4"/>
<path d="M1347.2,203.8H1379.2M1347.2,1103.0H1379.2M1363.2,203.8V637.9M1363.2,673.1V1103.0" stroke="#e0f6dc" stroke-width="7.5"/><path d="M1347.2,203.8H1379.2M1347.2,1103.0H1379.2M1363.2,203.8V637.9M1363.2,673.1V1103.0" stroke="#8ee68a" stroke-width="3.4"/>
<path d="M1465.1,393.9H1497.1M1465.1,930.0H1497.1M1481.1,393.9V645.9M1481.1,681.1V930.0" stroke="#e0f6dc" stroke-width="7.5"/><path d="M1465.1,393.9H1497.1M1465.1,930.0H1497.1M1481.1,393.9V645.9M1481.1,681.1V930.0" stroke="#8ee68a" stroke-width="3.4"/>
<path d="M1552.0,904.7H1584.0M1552.0,1101.8H1584.0M1568.0,904.7V985.4M1568.0,1020.6V1101.8" stroke="#e0f6dc" stroke-width="7.5"/><path d="M1552.0,904.7H1584.0M1552.0,1101.8H1584.0M1568.0,904.7V985.4M1568.0,1020.6V1101.8" stroke="#8ee68a" stroke-width="3.4"/>
<path d="M1943.7,1084.8H1975.7M1943.7,1166.5H1975.7M1959.7,1084.8V1107.5M1959.7,1142.7V1166.5" stroke="#e0f6dc" stroke-width="7.5"/><path d="M1943.7,1084.8H1975.7M1943.7,1166.5H1975.7M1959.7,1084.8V1107.5M1959.7,1142.7V1166.5" stroke="#8ee68a" stroke-width="3.4"/>
<path d="M2217.4,931.2H2249.4M2217.4,1050.6H2249.4M2233.4,931.2V973.8M2233.4,1009.0V1050.6" stroke="#e0f6dc" stroke-width="7.5"/><path d="M2217.4,931.2H2249.4M2217.4,1050.6H2249.4M2233.4,931.2V973.8M2233.4,1009.0V1050.6" stroke="#8ee68a" stroke-width="3.4"/>
<path d="M377.0,1249.4H409.0M377.0,1371.5H409.0M393.0,1249.4V1292.8M393.0,1326.0V1371.5" stroke="#d4d4f2" stroke-width="7.5"/><path d="M377.0,1249.4H409.0M377.0,1371.5H409.0M393.0,1249.4V1292.8M393.0,1326.0V1371.5" stroke="#7c7ed8" stroke-width="3.4"/>
<path d="M768.7,1223.5H800.7M768.7,1413.5H800.7M784.7,1223.5V1301.4M784.7,1334.6V1413.5" stroke="#d4d4f2" stroke-width="7.5"/><path d="M768.7,1223.5H800.7M768.7,1413.5H800.7M784.7,1223.5V1301.4M784.7,1334.6V1413.5" stroke="#7c7ed8" stroke-width="3.4"/>
<path d="M1160.3,1266.0H1192.3M1160.3,1287.0H1192.3" stroke="#d4d4f2" stroke-width="7.5"/><path d="M1160.3,1266.0H1192.3M1160.3,1287.0H1192.3" stroke="#7c7ed8" stroke-width="3.4"/>
<path d="M1347.2,994.8H1379.2M1347.2,1483.6H1379.2M1363.2,994.8V1221.7M1363.2,1254.9V1483.6" stroke="#d4d4f2" stroke-width="7.5"/><path d="M1347.2,994.8H1379.2M1347.2,1483.6H1379.2M1363.2,994.8V1221.7M1363.2,1254.9V1483.6" stroke="#7c7ed8" stroke-width="3.4"/>
<path d="M1465.1,654.6H1497.1M1465.1,1206.0H1497.1M1481.1,654.6V911.1M1481.1,944.3V1206.0" stroke="#d4d4f2" stroke-width="7.5"/><path d="M1465.1,654.6H1497.1M1465.1,1206.0H1497.1M1481.1,654.6V911.1M1481.1,944.3V1206.0" stroke="#7c7ed8" stroke-width="3.4"/>
<path d="M1552.0,627.0H1584.0M1552.0,852.9H1584.0M1568.0,627.0V722.8M1568.0,756.0V852.9" stroke="#d4d4f2" stroke-width="7.5"/><path d="M1552.0,627.0H1584.0M1552.0,852.9H1584.0M1568.0,627.0V722.8M1568.0,756.0V852.9" stroke="#7c7ed8" stroke-width="3.4"/>
<path d="M1943.7,580.1H1975.7M1943.7,812.7H1975.7M1959.7,580.1V678.9M1959.7,712.1V812.7" stroke="#d4d4f2" stroke-width="7.5"/><path d="M1943.7,580.1H1975.7M1943.7,812.7H1975.7M1959.7,580.1V678.9M1959.7,712.1V812.7" stroke="#7c7ed8" stroke-width="3.4"/>
<path d="M2217.4,610.8H2249.4M2217.4,702.0H2249.4M2233.4,610.8V638.0M2233.4,671.2V702.0" stroke="#d4d4f2" stroke-width="7.5"/><path d="M2217.4,610.8H2249.4M2217.4,702.0H2249.4M2233.4,610.8V638.0M2233.4,671.2V702.0" stroke="#7c7ed8" stroke-width="3.4"/>
<path d="M377.0,496.4H409.0M377.0,813.5H409.0M393.0,496.4V632.0M393.0,680.0V813.5" stroke="#f4d0d0" stroke-width="7.5"/><path d="M377.0,496.4H409.0M377.0,813.5H409.0M393.0,496.4V632.0M393.0,680.0V813.5" stroke="#de7e7e" stroke-width="3.4"/>
<path d="M768.7,717.0H800.7M768.7,857.5H800.7M784.7,717.0V764.0M784.7,810.4V857.5" stroke="#f4d0d0" stroke-width="7.5"/><path d="M768.7,717.0H800.7M768.7,857.5H800.7M784.7,717.0V764.0M784.7,810.4V857.5" stroke="#de7e7e" stroke-width="3.4"/>
<path d="M1160.3,847.5H1192.3M1160.3,1071.0H1192.3M1176.3,847.5V937.0M1176.3,983.3V1071.0" stroke="#f4d0d0" stroke-width="7.5"/><path d="M1160.3,847.5H1192.3M1160.3,1071.0H1192.3M1176.3,847.5V937.0M1176.3,983.3V1071.0" stroke="#de7e7e" stroke-width="3.4"/>
<path d="M1347.2,972.2H1379.2M1347.2,1229.0H1379.2M1363.2,972.2V1080.0M1363.2,1124.7V1229.0" stroke="#f4d0d0" stroke-width="7.5"/><path d="M1347.2,972.2H1379.2M1347.2,1229.0H1379.2M1363.2,972.2V1080.0M1363.2,1124.7V1229.0" stroke="#de7e7e" stroke-width="3.4"/>
<path d="M1465.1,1147.1H1497.1M1465.1,1303.7H1497.1M1481.1,1147.1V1203.0M1481.1,1246.0V1303.7" stroke="#f4d0d0" stroke-width="7.5"/><path d="M1465.1,1147.1H1497.1M1465.1,1303.7H1497.1M1481.1,1147.1V1203.0M1481.1,1246.0V1303.7" stroke="#de7e7e" stroke-width="3.4"/>
<path d="M1552.0,1327.0H1584.0M1552.0,1363.0H1584.0" stroke="#f4d0d0" stroke-width="7.5"/><path d="M1552.0,1327.0H1584.0M1552.0,1363.0H1584.0" stroke="#de7e7e" stroke-width="3.4"/>
<path d="M1943.7,1280.8H1975.7M1943.7,1339.4H1975.7M1959.7,1280.8V1283.0M1959.7,1331.0V1339.4" stroke="#f4d0d0" stroke-width="7.5"/><path d="M1943.7,1280.8H1975.7M1943.7,1339.4H1975.7M1959.7,1280.8V1283.0M1959.7,1331.0V1339.4" stroke="#de7e7e" stroke-width="3.4"/>
<path d="M2217.4,1331.0H2249.4M2217.4,1364.0H2249.4" stroke="#f4d0d0" stroke-width="7.5"/><path d="M2217.4,1331.0H2249.4M2217.4,1364.0H2249.4" stroke="#de7e7e" stroke-width="3.4"/>
</g>
<g>
<rect x="303.2" y="48.5" width="3.8" height="1469" fill="#929292"/>
<rect x="307" y="48.5" width="3.9" height="1469" fill="#c2c2c2"/>
<rect x="275.3" y="1513.4" width="31.6" height="4.2" fill="#1e1e1e"/>
<rect x="275.3" y="1517.6" width="31.6" height="3" fill="#b4b4b4"/>
<rect x="291.3" y="1427.4" width="15.6" height="4.2" fill="#1e1e1e"/>
<rect x="275.3" y="1341.4" width="31.6" height="4.2" fill="#1e1e1e"/>
<rect x="275.3" y="1345.6" width="31.6" height="3" fill="#b4b4b4"/>
<rect x="291.3" y="1255.4" width="15.6" height="4.2" fill="#1e1e1e"/>
<rect x="275.3" y="1169.4" width="31.6" height="4.2" fill="#1e1e1e"/>
<rect x="275.3" y="1173.6" width="31.6" height="3" fill="#b4b4b4"/>
<rect x="291.3" y="1083.5" width="15.6" height="4.2" fill="#1e1e1e"/>
<rect x="275.3" y="997.5" width="31.6" height="4.2" fill="#1e1e1e"/>
<rect x="275.3" y="1001.7" width="31.6" height="3" fill="#b4b4b4"/>
<rect x="291.3" y="911.5" width="15.6" height="4.2" fill="#1e1e1e"/>
<rect x="275.3" y="825.5" width="31.6" height="4.2" fill="#1e1e1e"/>
<rect x="275.3" y="829.7" width="31.6" height="3" fill="#b4b4b4"/>
<rect x="291.3" y="739.5" width="15.6" height="4.2" fill="#1e1e1e"/>
<rect x="275.3" y="653.5" width="31.6" height="4.2" fill="#1e1e1e"/>
<rect x="275.3" y="657.7" width="31.6" height="3" fill="#b4b4b4"/>
<rect x="291.3" y="567.5" width="15.6" height="4.2" fill="#1e1e1e"/>
<rect x="275.3" y="481.5" width="31.6" height="4.2" fill="#1e1e1e"/>
<rect x="275.3" y="485.7" width="31.6" height="3" fill="#b4b4b4"/>
<rect x="291.3" y="395.5" width="15.6" height="4.2" fill="#1e1e1e"/>
<rect x="275.3" y="309.5" width="31.6" height="4.2" fill="#1e1e1e"/>
<rect x="275.3" y="313.7" width="31.6" height="3" fill="#b4b4b4"/>
<rect x="291.3" y="223.6" width="15.6" height="4.2" fill="#1e1e1e"/>
<rect x="275.3" y="137.6" width="31.6" height="4.2" fill="#1e1e1e"/>
<rect x="275.3" y="141.8" width="31.6" height="3" fill="#b4b4b4"/>
<rect x="291.3" y="51.6" width="15.6" height="4.2" fill="#1e1e1e"/>
<rect x="275" y="1510.3" width="1990" height="11.3" fill="#dedede"/>
<rect x="275" y="1514.2" width="1990" height="3.6" fill="#050505"/>
<rect x="302.5" y="1516" width="7.2" height="17.7" fill="#c8c8c8"/>
<rect x="304.3" y="1516" width="3.6" height="17.7" fill="#0a0a0a"/>
<rect x="328.7" y="1516" width="7.2" height="17.7" fill="#c8c8c8"/>
<rect x="330.5" y="1516" width="3.6" height="17.7" fill="#0a0a0a"/>
<rect x="351.4" y="1516" width="7.2" height="17.7" fill="#c8c8c8"/>
<rect x="353.2" y="1516" width="3.6" height="17.7" fill="#0a0a0a"/>
<rect x="371.5" y="1516" width="7.2" height="17.7" fill="#c8c8c8"/>
<rect x="373.3" y="1516" width="3.6" height="17.7" fill="#0a0a0a"/>
<rect x="389.4" y="1516" width="7.2" height="30.0" fill="#c8c8c8"/>
<rect x="391.2" y="1516" width="3.6" height="30.0" fill="#0a0a0a"/>
<rect x="507.3" y="1516" width="7.2" height="17.7" fill="#c8c8c8"/>
<rect x="509.1" y="1516" width="3.6" height="17.7" fill="#0a0a0a"/>
<rect x="576.3" y="1516" width="7.2" height="17.7" fill="#c8c8c8"/>
<rect x="578.1" y="1516" width="3.6" height="17.7" fill="#0a0a0a"/>
<rect x="625.2" y="1516" width="7.2" height="17.7" fill="#c8c8c8"/>
<rect x="627.0" y="1516" width="3.6" height="17.7" fill="#0a0a0a"/>
<rect x="663.2" y="1516" width="7.2" height="17.7" fill="#c8c8c8"/>
<rect x="665.0" y="1516" width="3.6" height="17.7" fill="#0a0a0a"/>
<rect x="694.2" y="1516" width="7.2" height="17.7" fill="#c8c8c8"/>
<rect x="696.0" y="1516" width="3.6" height="17.7" fill="#0a0a0a"/>
<rect x="720.4" y="1516" width="7.2" height="17.7" fill="#c8c8c8"/>
<rect x="722.2" y="1516" width="3.6" height="17.7" fill="#0a0a0a"/>
<rect x="743.1" y="1516" width="7.2" height="17.7" fill="#c8c8c8"/>
<rect x="744.9" y="1516" width="3.6" height="17.7" fill="#0a0a0a"/>
<rect x="763.1" y="1516" width="7.2" height="17.7" fill="#c8c8c8"/>
<rect x="764.9" y="1516" width="3.6" height="17.7" fill="#0a0a0a"/>
<rect x="781.1" y="1516" width="7.2" height="30.0" fill="#c8c8c8"/>
<rect x="782.9" y="1516" width="3.6" height="30.0" fill="#0a0a0a"/>
<rect x="899.0" y="1516" width="7.2" height="17.7" fill="#c8c8c8"/>
<rect x="900.8" y="1516" width="3.6" height="17.7" fill="#0a0a0a"/>
<rect x="967.9" y="1516" width="7.2" height="17.7" fill="#c8c8c8"/>
<rect x="969.7" y="1516" width="3.6" height="17.7" fill="#0a0a0a"/>
<rect x="1016.9" y="1516" width="7.2" height="17.7" fill="#c8c8c8"/>
<rect x="1018.7" y="1516" width="3.6" height="17.7" fill="#0a0a0a"/>
<rect x="1054.8" y="1516" width="7.2" height="17.7" fill="#c8c8c8"/>
<rect x="1056.6" y="1516" width="3.6" height="17.7" fill="#0a0a0a"/>
<rect x="1085.8" y="1516" width="7.2" height="17.7" fill="#c8c8c8"/>
<rect x="1087.6" y="1516" width="3.6" height="17.7" fill="#0a0a0a"/>
<rect x="1112.1" y="1516" width="7.2" height="17.7" fill="#c8c8c8"/>
<rect x="1113.9" y="1516" width="3.6" height="17.7" fill="#0a0a0a"/>
<rect x="1134.8" y="1516" width="7.2" height="17.7" fill="#c8c8c8"/>
<rect x="1136.6" y="1516" width="3.6" height="17.7" fill="#0a0a0a"/>
<rect x="1154.8" y="1516" width="7.2" height="17.7" fill="#c8c8c8"/>
<rect x="1156.6" y="1516" width="3.6" height="17.7" fill="#0a0a0a"/>
<rect x="1172.7" y="1516" width="7.2" height="30.0" fill="#c8c8c8"/>
<rect x="1174.5" y="1516" width="3.6" height="30.0" fill="#0a0a0a"/>
<rect x="1290.6" y="1516" width="7.2" height="17.7" fill="#c8c8c8"/>
<rect x="1292.4" y="1516" width="3.6" height="17.7" fill="#0a0a0a"/>
<rect x="1359.6" y="1516" width="7.2" height="17.7" fill="#c8c8c8"/>
<rect x="1361.4" y="1516" width="3.6" height="17.7" fill="#0a0a0a"/>
<rect x="1408.5" y="1516" width="7.2" height="17.7" fill="#c8c8c8"/>
<rect x="1410.3" y="1516" width="3.6" height="17.7" fill="#0a0a0a"/>
<rect x="1446.5" y="1516" width="7.2" height="17.7" fill="#c8c8c8"/>
<rect x="1448.3" y="1516" width="3.6" height="17.7" fill="#0a0a0a"/>
<rect x="1477.5" y="1516" width="7.2" height="17.7" fill="#c8c8c8"/>
<rect x="1479.3" y="1516" width="3.6" height="17.7" fill="#0a0a0a"/>
<rect x="1503.7" y="1516" width="7.2" height="17.7" fill="#c8c8c8"/>
<rect x="1505.5" y="1516" width="3.6" height="17.7" fill="#0a0a0a"/>
<rect x="1526.5" y="1516" width="7.2" height="17.7" fill="#c8c8c8"/>
<rect x="1528.3" y="1516" width="3.6" height="17.7" fill="#0a0a0a"/>
<rect x="1546.5" y="1516" width="7.2" height="17.7" fill="#c8c8c8"/>
<rect x="1548.3" y="1516" width="3.6" height="17.7" fill="#0a0a0a"/>
<rect x="1564.4" y="1516" width="7.2" height="30.0" fill="#c8c8c8"/>
<rect x="1566.2" y="1516" width="3.6" height="30.0" fill="#0a0a0a"/>
<rect x="1682.3" y="1516" width="7.2" height="17.7" fill="#c8c8c8"/>
<rect x="1684.1" y="1516" width="3.6" height="17.7" fill="#0a0a0a"/>
<rect x="1751.3" y="1516" width="7.2" height="17.7" fill="#c8c8c8"/>
<rect x="1753.1" y="1516" width="3.6" height="17.7" fill="#0a0a0a"/>
<rect x="1800.2" y="1516" width="7.2" height="17.7" fill="#c8c8c8"/>
<rect x="1802.0" y="1516" width="3.6" height="17.7" fill="#0a0a0a"/>
<rect x="1838.2" y="1516" width="7.2" height="17.7" fill="#c8c8c8"/>
<rect x="1840.0" y="1516" width="3.6" height="17.7" fill="#0a0a0a"/>
<rect x="1869.2" y="1516" width="7.2" height="17.7" fill="#c8c8c8"/>
<rect x="1871.0" y="1516" width="3.6" height="17.7" fill="#0a0a0a"/>
<rect x="1895.4" y="1516" width="7.2" height="17.7" fill="#c8c8c8"/>
<rect x="1897.2" y="1516" width="3.6" height="17.7" fill="#0a0a0a"/>
<rect x="1918.1" y="1516" width="7.2" height="17.7" fill="#c8c8c8"/>
<rect x="1919.9" y="1516" width="3.6" height="17.7" fill="#0a0a0a"/>
<rect x="1938.2" y="1516" width="7.2" height="17.7" fill="#c8c8c8"/>
<rect x="1940.0" y="1516" width="3.6" height="17.7" fill="#0a0a0a"/>
<rect x="1956.1" y="1516" width="7.2" height="30.0" fill="#c8c8c8"/>
<rect x="1957.9" y="1516" width="3.6" height="30.0" fill="#0a0a0a"/>
<rect x="2074.0" y="1516" width="7.2" height="17.7" fill="#c8c8c8"/>
<rect x="2075.8" y="1516" width="3.6" height="17.7" fill="#0a0a0a"/>
<rect x="2143.0" y="1516" width="7.2" height="17.7" fill="#c8c8c8"/>
<rect x="2144.8" y="1516" width="3.6" height="17.7" fill="#0a0a0a"/>
<rect x="2191.9" y="1516" width="7.2" height="17.7" fill="#c8c8c8"/>
<rect x="2193.7" y="1516" width="3.6" height="17.7" fill="#0a0a0a"/>
<rect x="2229.8" y="1516" width="7.2" height="17.7" fill="#c8c8c8"/>
<rect x="2231.6" y="1516" width="3.6" height="17.7" fill="#0a0a0a"/>
<rect x="2260.9" y="1516" width="7.2" height="17.7" fill="#c8c8c8"/>
<rect x="2262.7" y="1516" width="3.6" height="17.7" fill="#0a0a0a"/>
</g>
<g font-family="'Liberation Sans', Arial, Helvetica, sans-serif" fill="#000">
<text transform="translate(256.5,1538.8) scale(1,1.045)" font-size="82" text-anchor="end">0.0</text>
<text transform="translate(256.5,1366.6) scale(1,1.045)" font-size="82" text-anchor="end">0.2</text>
<text transform="translate(256.5,1194.5) scale(1,1.045)" font-size="82" text-anchor="end">0.4</text>
<text transform="translate(256.5,1022.3) scale(1,1.045)" font-size="82" text-anchor="end">0.6</text>
<text transform="translate(256.5,850.2) scale(1,1.045)" font-size="82" text-anchor="end">0.8</text>
<text transform="translate(256.5,678.0) scale(1,1.045)" font-size="82" text-anchor="end">1.0</text>
<text transform="translate(256.5,505.8) scale(1,1.045)" font-size="82" text-anchor="end">1.2</text>
<text transform="translate(256.5,333.7) scale(1,1.045)" font-size="82" text-anchor="end">1.4</text>
<text transform="translate(256.5,161.5) scale(1,1.045)" font-size="82" text-anchor="end">1.6</text>
<text transform="translate(326.6,1648) scale(1,1.045)" font-size="82">10</text>
<text x="415.2" y="1602.5" font-size="54">-5</text>
<text transform="translate(718.3,1648) scale(1,1.045)" font-size="82">10</text>
<text x="806.9" y="1602.5" font-size="54">-4</text>
<text transform="translate(1109.9,1648) scale(1,1.045)" font-size="82">10</text>
<text x="1198.5" y="1602.5" font-size="54">-3</text>
<text transform="translate(1501.6,1648) scale(1,1.045)" font-size="82">10</text>
<text x="1590.2" y="1602.5" font-size="54">-2</text>
<text transform="translate(1893.3,1648) scale(1,1.045)" font-size="82">10</text>
<text x="1981.9" y="1602.5" font-size="54">-1</text>
</g>
<text x="646" y="1793.7" font-family="'Liberation Sans', Arial, Helvetica, sans-serif" font-weight="bold" font-size="94">Concentration (KCl) / mol·L</text>
<text x="1870.5" y="1754" font-family="'Liberation Sans', Arial, Helvetica, sans-serif" font-weight="bold" font-size="62">-1</text>
<text transform="translate(87,1414) rotate(-90)" font-family="'Liberation Sans', Arial, Helvetica, sans-serif" font-weight="bold" font-size="98.5">Relative RGB intensities</text>
<rect x="1438.2" y="7.9" width="890.7" height="8" fill="#8e8e8e"/>
<rect x="1438.2" y="7.9" width="3.8" height="360" fill="#c4c4c4"/>
<rect x="1442" y="7.9" width="3.8" height="356.6" fill="#8c8c8c"/>
<rect x="2321.1" y="7.9" width="3.9" height="356.5" fill="#b4b4b4"/>
<rect x="2325" y="7.9" width="3.9" height="356.5" fill="#8e8e8e"/>
<rect x="1438.2" y="361.1" width="887" height="3.4" fill="#c4c4c4"/>
<rect x="1438.2" y="364.5" width="887" height="3.4" fill="#b0b0b0"/>
<path d="M1470.7,77H1554M1598.6,77H1682" stroke="#cccdf0" stroke-width="7.5"/>
<path d="M1470.7,77H1554M1598.6,77H1682" stroke="#8688da" stroke-width="4"/>
<path d="M1470.7,193.1H1554M1598.6,193.1H1682" stroke="#e2f8de" stroke-width="7.5"/>
<path d="M1470.7,193.1H1554M1598.6,193.1H1682" stroke="#94e88e" stroke-width="4"/>
<path d="M1470.7,308.3H1554M1598.6,308.3H1682" stroke="#f2c0c0" stroke-width="7.5"/>
<path d="M1470.7,308.3H1554M1598.6,308.3H1682" stroke="#dc8080" stroke-width="4"/>
<rect x="1559.2" y="59.8" width="33.6" height="34.4" fill="#0000ff"/>
<circle cx="1576" cy="192.5" r="18.5" fill="#00ff00"/>
<path d="M1576.2,281 L1598.2,324 L1554.2,324Z" fill="#ff0000"/>
<g font-family="'Liberation Sans', Arial, Helvetica, sans-serif" font-size="94.3" fill="#000">
<text x="1705.8" y="110">blue channel</text>
<text x="1705.8" y="225.6">green channel</text>
<text x="1705.8" y="339.8">red channel</text>
</g>
</svg>
</body></html>
